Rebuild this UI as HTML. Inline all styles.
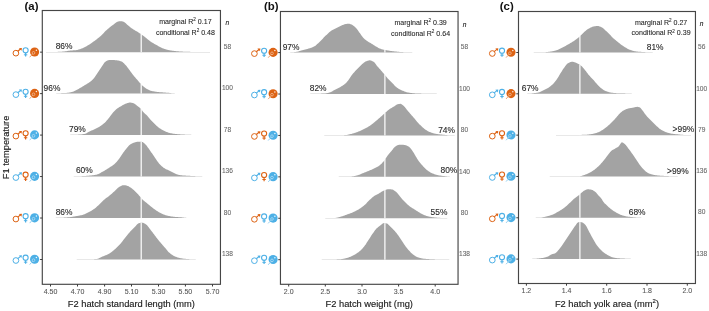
<!DOCTYPE html>
<html><head><meta charset="utf-8"><style>
html,body{margin:0;padding:0;background:#fff;width:709px;height:311px;overflow:hidden;font-family:"Liberation Sans",sans-serif;}
svg{display:block;will-change:transform;}
</style></head><body>
<svg width="709" height="311" viewBox="0 0 709 311">
<rect x="0" y="0" width="709" height="311" fill="#fff"/>
<path d="M46.0,52.15L46.0,52.10L46.5,52.09L47.0,52.09L47.5,52.08L48.0,52.08L48.5,52.07L49.0,52.07L49.5,52.06L50.0,52.06L50.5,52.05L51.0,52.05L51.5,52.04L52.0,52.03L52.5,52.02L53.0,52.01L53.5,52.00L54.0,51.99L54.5,51.98L55.0,51.97L55.5,51.95L56.0,51.94L56.5,51.92L57.0,51.91L57.5,51.89L58.0,51.87L58.5,51.85L59.0,51.83L59.5,51.80L60.0,51.78L60.5,51.75L61.0,51.72L61.5,51.68L62.0,51.65L62.5,51.61L63.0,51.57L63.5,51.53L64.0,51.49L64.5,51.43L65.0,51.37L65.5,51.29L66.0,51.21L66.5,51.13L67.0,51.04L67.5,50.95L68.0,50.86L68.5,50.78L69.0,50.70L69.5,50.63L70.0,50.57L70.5,50.53L71.0,50.49L71.5,50.45L72.0,50.42L72.5,50.40L73.0,50.37L73.5,50.34L74.0,50.31L74.5,50.27L75.0,50.23L75.5,50.19L76.0,50.14L76.5,50.07L77.0,49.98L77.5,49.88L78.0,49.76L78.5,49.62L79.0,49.47L79.5,49.31L80.0,49.14L80.5,48.96L81.0,48.78L81.5,48.59L82.0,48.40L82.5,48.21L83.0,48.00L83.5,47.78L84.0,47.54L84.5,47.30L85.0,47.04L85.5,46.77L86.0,46.49L86.5,46.21L87.0,45.92L87.5,45.62L88.0,45.33L88.5,45.03L89.0,44.72L89.5,44.41L90.0,44.08L90.5,43.75L91.0,43.40L91.5,43.05L92.0,42.70L92.5,42.34L93.0,41.98L93.5,41.61L94.0,41.24L94.5,40.88L95.0,40.51L95.5,40.14L96.0,39.76L96.5,39.38L97.0,39.00L97.5,38.61L98.0,38.22L98.5,37.82L99.0,37.41L99.5,37.00L100.0,36.57L100.5,36.14L101.0,35.69L101.5,35.21L102.0,34.72L102.5,34.21L103.0,33.69L103.5,33.16L104.0,32.64L104.5,32.11L105.0,31.59L105.5,31.09L106.0,30.60L106.5,30.13L107.0,29.68L107.5,29.24L108.0,28.81L108.5,28.38L109.0,27.96L109.5,27.55L110.0,27.15L110.5,26.75L111.0,26.36L111.5,25.98L112.0,25.62L112.5,25.26L113.0,24.91L113.5,24.54L114.0,24.15L114.5,23.76L115.0,23.36L115.5,22.98L116.0,22.62L116.5,22.28L117.0,21.98L117.5,21.73L118.0,21.53L118.5,21.40L119.0,21.34L119.5,21.31L120.0,21.29L120.5,21.27L121.0,21.25L121.5,21.25L122.0,21.30L122.5,21.42L123.0,21.61L123.5,21.82L124.0,22.05L124.5,22.33L125.0,22.69L125.5,23.12L126.0,23.58L126.5,24.05L127.0,24.51L127.5,24.93L128.0,25.34L128.5,25.75L129.0,26.16L129.5,26.58L130.0,26.98L130.5,27.38L131.0,27.77L131.5,28.15L132.0,28.51L132.5,28.85L133.0,29.18L133.5,29.50L134.0,29.80L134.5,30.10L135.0,30.39L135.5,30.67L136.0,30.96L136.5,31.25L137.0,31.54L137.5,31.84L138.0,32.16L138.5,32.48L139.0,32.81L139.5,33.15L140.0,33.49L140.5,33.83L141.0,34.18L141.5,34.54L142.0,34.89L142.5,35.25L143.0,35.62L143.5,35.98L144.0,36.35L144.5,36.72L145.0,37.11L145.5,37.50L146.0,37.91L146.5,38.32L147.0,38.74L147.5,39.15L148.0,39.57L148.5,39.97L149.0,40.37L149.5,40.76L150.0,41.13L150.5,41.48L151.0,41.82L151.5,42.14L152.0,42.46L152.5,42.76L153.0,43.06L153.5,43.36L154.0,43.64L154.5,43.93L155.0,44.21L155.5,44.49L156.0,44.76L156.5,45.04L157.0,45.32L157.5,45.60L158.0,45.88L158.5,46.17L159.0,46.45L159.5,46.73L160.0,47.01L160.5,47.27L161.0,47.53L161.5,47.77L162.0,48.00L162.5,48.21L163.0,48.40L163.5,48.58L164.0,48.76L164.5,48.93L165.0,49.10L165.5,49.26L166.0,49.41L166.5,49.55L167.0,49.69L167.5,49.81L168.0,49.93L168.5,50.04L169.0,50.14L169.5,50.24L170.0,50.33L170.5,50.42L171.0,50.50L171.5,50.57L172.0,50.65L172.5,50.72L173.0,50.78L173.5,50.85L174.0,50.91L174.5,50.97L175.0,51.02L175.5,51.08L176.0,51.13L176.5,51.18L177.0,51.23L177.5,51.28L178.0,51.33L178.5,51.37L179.0,51.41L179.5,51.44L180.0,51.48L180.5,51.50L181.0,51.53L181.5,51.56L182.0,51.58L182.5,51.61L183.0,51.63L183.5,51.65L184.0,51.68L184.5,51.70L185.0,51.71L185.5,51.73L186.0,51.75L186.5,51.77L187.0,51.78L187.5,51.80L188.0,51.81L188.5,51.83L189.0,51.84L189.5,51.85L190.0,51.87L190.5,51.88L191.0,51.89L191.5,51.90L192.0,51.91L192.5,51.92L193.0,51.93L193.5,51.94L194.0,51.95L194.5,51.96L195.0,51.97L195.5,51.97L196.0,51.98L196.5,51.99L197.0,52.00L197.5,52.00L198.0,52.01L198.5,52.01L199.0,52.02L199.5,52.03L200.0,52.03L200.5,52.04L201.0,52.04L201.5,52.05L202.0,52.05L202.5,52.05L203.0,52.06L203.5,52.06L204.0,52.07L204.5,52.07L205.0,52.07L205.5,52.07L206.0,52.08L206.5,52.08L207.0,52.08L207.5,52.09L208.0,52.09L208.5,52.09L209.0,52.09L209.5,52.10L210.0,52.10L210.0,52.15Z" fill="#A3A3A3"/>
<rect x="140.60" y="33.90" width="1.2" height="18.25" fill="#fff"/>
<path d="M46.0,93.62L46.0,93.57L46.5,93.56L47.0,93.56L47.5,93.56L48.0,93.55L48.5,93.55L49.0,93.54L49.5,93.53L50.0,93.53L50.5,93.52L51.0,93.51L51.5,93.50L52.0,93.49L52.5,93.48L53.0,93.47L53.5,93.46L54.0,93.44L54.5,93.43L55.0,93.41L55.5,93.40L56.0,93.38L56.5,93.36L57.0,93.34L57.5,93.31L58.0,93.28L58.5,93.25L59.0,93.22L59.5,93.19L60.0,93.17L60.5,93.15L61.0,93.13L61.5,93.11L62.0,93.10L62.5,93.09L63.0,93.07L63.5,93.06L64.0,93.04L64.5,93.02L65.0,93.00L65.5,92.98L66.0,92.95L66.5,92.92L67.0,92.87L67.5,92.82L68.0,92.76L68.5,92.69L69.0,92.61L69.5,92.52L70.0,92.42L70.5,92.32L71.0,92.21L71.5,92.10L72.0,91.98L72.5,91.85L73.0,91.69L73.5,91.51L74.0,91.30L74.5,91.07L75.0,90.82L75.5,90.56L76.0,90.29L76.5,90.01L77.0,89.73L77.5,89.45L78.0,89.18L78.5,88.91L79.0,88.64L79.5,88.37L80.0,88.08L80.5,87.79L81.0,87.50L81.5,87.20L82.0,86.90L82.5,86.59L83.0,86.28L83.5,85.98L84.0,85.67L84.5,85.36L85.0,85.06L85.5,84.76L86.0,84.46L86.5,84.16L87.0,83.87L87.5,83.56L88.0,83.25L88.5,82.93L89.0,82.60L89.5,82.25L90.0,81.88L90.5,81.50L91.0,81.09L91.5,80.65L92.0,80.19L92.5,79.70L93.0,79.18L93.5,78.63L94.0,78.06L94.5,77.45L95.0,76.77L95.5,76.05L96.0,75.28L96.5,74.50L97.0,73.71L97.5,72.93L98.0,72.17L98.5,71.42L99.0,70.67L99.5,69.92L100.0,69.16L100.5,68.42L101.0,67.68L101.5,66.96L102.0,66.23L102.5,65.46L103.0,64.67L103.5,63.90L104.0,63.19L104.5,62.57L105.0,62.08L105.5,61.71L106.0,61.36L106.5,61.03L107.0,60.74L107.5,60.49L108.0,60.30L108.5,60.17L109.0,60.11L109.5,60.09L110.0,60.07L110.5,60.05L111.0,60.04L111.5,60.03L112.0,60.02L112.5,60.02L113.0,60.02L113.5,60.04L114.0,60.06L114.5,60.09L115.0,60.13L115.5,60.17L116.0,60.21L116.5,60.26L117.0,60.32L117.5,60.40L118.0,60.49L118.5,60.59L119.0,60.70L119.5,60.82L120.0,60.96L120.5,61.13L121.0,61.33L121.5,61.56L122.0,61.81L122.5,62.10L123.0,62.47L123.5,62.89L124.0,63.37L124.5,63.89L125.0,64.43L125.5,64.98L126.0,65.53L126.5,66.11L127.0,66.73L127.5,67.38L128.0,68.05L128.5,68.73L129.0,69.41L129.5,70.09L130.0,70.76L130.5,71.45L131.0,72.14L131.5,72.84L132.0,73.53L132.5,74.21L133.0,74.87L133.5,75.49L134.0,76.09L134.5,76.68L135.0,77.26L135.5,77.82L136.0,78.39L136.5,78.96L137.0,79.54L137.5,80.12L138.0,80.72L138.5,81.32L139.0,81.91L139.5,82.49L140.0,83.06L140.5,83.61L141.0,84.15L141.5,84.68L142.0,85.19L142.5,85.67L143.0,86.12L143.5,86.54L144.0,86.94L144.5,87.33L145.0,87.70L145.5,88.06L146.0,88.39L146.5,88.70L147.0,89.00L147.5,89.29L148.0,89.57L148.5,89.83L149.0,90.08L149.5,90.30L150.0,90.49L150.5,90.64L151.0,90.78L151.5,90.91L152.0,91.03L152.5,91.15L153.0,91.25L153.5,91.35L154.0,91.44L154.5,91.53L155.0,91.61L155.5,91.69L156.0,91.75L156.5,91.82L157.0,91.88L157.5,91.94L158.0,91.99L158.5,92.04L159.0,92.09L159.5,92.13L160.0,92.17L160.5,92.21L161.0,92.25L161.5,92.29L162.0,92.33L162.5,92.37L163.0,92.41L163.5,92.45L164.0,92.49L164.5,92.52L165.0,92.56L165.5,92.59L166.0,92.63L166.5,92.66L167.0,92.70L167.5,92.73L168.0,92.77L168.5,92.81L169.0,92.86L169.5,92.92L170.0,92.98L170.5,93.04L171.0,93.10L171.5,93.15L172.0,93.20L172.5,93.24L173.0,93.28L173.5,93.31L174.0,93.34L174.5,93.36L175.0,93.39L175.5,93.41L176.0,93.43L176.5,93.44L177.0,93.46L177.5,93.48L178.0,93.49L178.5,93.50L179.0,93.51L179.5,93.52L180.0,93.53L180.5,93.54L181.0,93.54L181.5,93.55L182.0,93.56L182.5,93.56L183.0,93.57L183.0,93.62Z" fill="#A3A3A3"/>
<rect x="140.60" y="83.72" width="1.2" height="9.90" fill="#fff"/>
<path d="M56.0,135.09L56.0,135.04L56.5,135.04L57.0,135.03L57.5,135.03L58.0,135.03L58.5,135.02L59.0,135.02L59.5,135.02L60.0,135.01L60.5,135.01L61.0,135.01L61.5,135.00L62.0,135.00L62.5,134.99L63.0,134.99L63.5,134.98L64.0,134.98L64.5,134.97L65.0,134.97L65.5,134.96L66.0,134.95L66.5,134.95L67.0,134.94L67.5,134.93L68.0,134.92L68.5,134.91L69.0,134.90L69.5,134.90L70.0,134.88L70.5,134.87L71.0,134.86L71.5,134.85L72.0,134.84L72.5,134.83L73.0,134.81L73.5,134.80L74.0,134.78L74.5,134.77L75.0,134.75L75.5,134.74L76.0,134.72L76.5,134.70L77.0,134.68L77.5,134.66L78.0,134.64L78.5,134.62L79.0,134.59L79.5,134.56L80.0,134.53L80.5,134.49L81.0,134.45L81.5,134.39L82.0,134.33L82.5,134.27L83.0,134.19L83.5,134.11L84.0,134.02L84.5,133.92L85.0,133.80L85.5,133.64L86.0,133.43L86.5,133.19L87.0,132.92L87.5,132.62L88.0,132.32L88.5,132.03L89.0,131.74L89.5,131.48L90.0,131.24L90.5,131.01L91.0,130.79L91.5,130.57L92.0,130.35L92.5,130.14L93.0,129.92L93.5,129.70L94.0,129.47L94.5,129.24L95.0,129.00L95.5,128.76L96.0,128.51L96.5,128.27L97.0,128.02L97.5,127.76L98.0,127.49L98.5,127.22L99.0,126.93L99.5,126.63L100.0,126.32L100.5,125.99L101.0,125.66L101.5,125.31L102.0,124.95L102.5,124.58L103.0,124.18L103.5,123.78L104.0,123.35L104.5,122.91L105.0,122.43L105.5,121.93L106.0,121.39L106.5,120.83L107.0,120.25L107.5,119.66L108.0,119.06L108.5,118.45L109.0,117.83L109.5,117.22L110.0,116.56L110.5,115.87L111.0,115.17L111.5,114.48L112.0,113.80L112.5,113.16L113.0,112.58L113.5,112.01L114.0,111.46L114.5,110.93L115.0,110.42L115.5,109.94L116.0,109.49L116.5,109.07L117.0,108.68L117.5,108.32L118.0,107.98L118.5,107.65L119.0,107.33L119.5,107.03L120.0,106.74L120.5,106.45L121.0,106.17L121.5,105.89L122.0,105.61L122.5,105.32L123.0,105.04L123.5,104.76L124.0,104.50L124.5,104.24L125.0,104.00L125.5,103.78L126.0,103.59L126.5,103.42L127.0,103.26L127.5,103.09L128.0,102.93L128.5,102.80L129.0,102.69L129.5,102.62L130.0,102.59L130.5,102.61L131.0,102.66L131.5,102.73L132.0,102.83L132.5,102.95L133.0,103.09L133.5,103.23L134.0,103.40L134.5,103.66L135.0,103.99L135.5,104.38L136.0,104.80L136.5,105.23L137.0,105.65L137.5,106.04L138.0,106.42L138.5,106.79L139.0,107.17L139.5,107.58L140.0,108.01L140.5,108.49L141.0,109.04L141.5,109.67L142.0,110.33L142.5,110.99L143.0,111.63L143.5,112.20L144.0,112.72L144.5,113.21L145.0,113.67L145.5,114.14L146.0,114.60L146.5,115.08L147.0,115.58L147.5,116.12L148.0,116.69L148.5,117.28L149.0,117.89L149.5,118.49L150.0,119.08L150.5,119.66L151.0,120.21L151.5,120.75L152.0,121.28L152.5,121.80L153.0,122.31L153.5,122.81L154.0,123.31L154.5,123.79L155.0,124.26L155.5,124.74L156.0,125.21L156.5,125.68L157.0,126.13L157.5,126.57L158.0,127.00L158.5,127.40L159.0,127.78L159.5,128.13L160.0,128.46L160.5,128.78L161.0,129.09L161.5,129.39L162.0,129.68L162.5,129.95L163.0,130.21L163.5,130.47L164.0,130.72L164.5,130.96L165.0,131.20L165.5,131.44L166.0,131.68L166.5,131.91L167.0,132.12L167.5,132.32L168.0,132.51L168.5,132.67L169.0,132.81L169.5,132.94L170.0,133.05L170.5,133.16L171.0,133.27L171.5,133.36L172.0,133.46L172.5,133.55L173.0,133.63L173.5,133.71L174.0,133.78L174.5,133.85L175.0,133.91L175.5,133.97L176.0,134.03L176.5,134.08L177.0,134.12L177.5,134.17L178.0,134.21L178.5,134.25L179.0,134.29L179.5,134.32L180.0,134.36L180.5,134.39L181.0,134.42L181.5,134.45L182.0,134.48L182.5,134.51L183.0,134.54L183.5,134.56L184.0,134.59L184.5,134.61L185.0,134.64L185.5,134.66L186.0,134.69L186.5,134.71L187.0,134.74L187.5,134.76L188.0,134.78L188.5,134.80L189.0,134.81L189.5,134.83L190.0,134.85L190.5,134.86L191.0,134.87L191.5,134.89L192.0,134.90L192.5,134.91L193.0,134.92L193.5,134.93L194.0,134.94L194.5,134.95L195.0,134.96L195.5,134.96L196.0,134.97L196.5,134.98L197.0,134.99L197.5,134.99L198.0,135.00L198.5,135.00L199.0,135.01L199.5,135.01L200.0,135.02L200.5,135.02L201.0,135.02L201.5,135.03L202.0,135.03L202.5,135.04L203.0,135.04L203.0,135.09Z" fill="#A3A3A3"/>
<rect x="140.60" y="108.59" width="1.2" height="26.50" fill="#fff"/>
<path d="M61.0,176.56L61.0,176.51L61.5,176.51L62.0,176.50L62.5,176.50L63.0,176.50L63.5,176.49L64.0,176.49L64.5,176.49L65.0,176.48L65.5,176.48L66.0,176.47L66.5,176.47L67.0,176.47L67.5,176.46L68.0,176.46L68.5,176.45L69.0,176.45L69.5,176.44L70.0,176.43L70.5,176.43L71.0,176.42L71.5,176.41L72.0,176.40L72.5,176.39L73.0,176.39L73.5,176.38L74.0,176.37L74.5,176.36L75.0,176.35L75.5,176.34L76.0,176.32L76.5,176.31L77.0,176.30L77.5,176.28L78.0,176.27L78.5,176.25L79.0,176.24L79.5,176.22L80.0,176.20L80.5,176.18L81.0,176.16L81.5,176.14L82.0,176.12L82.5,176.09L83.0,176.07L83.5,176.04L84.0,176.02L84.5,175.99L85.0,175.96L85.5,175.92L86.0,175.89L86.5,175.85L87.0,175.81L87.5,175.77L88.0,175.73L88.5,175.68L89.0,175.64L89.5,175.59L90.0,175.55L90.5,175.50L91.0,175.45L91.5,175.40L92.0,175.35L92.5,175.30L93.0,175.24L93.5,175.18L94.0,175.11L94.5,175.04L95.0,174.96L95.5,174.87L96.0,174.78L96.5,174.67L97.0,174.52L97.5,174.35L98.0,174.15L98.5,173.92L99.0,173.68L99.5,173.42L100.0,173.16L100.5,172.88L101.0,172.61L101.5,172.33L102.0,172.07L102.5,171.80L103.0,171.53L103.5,171.25L104.0,170.96L104.5,170.66L105.0,170.36L105.5,170.05L106.0,169.73L106.5,169.42L107.0,169.10L107.5,168.78L108.0,168.45L108.5,168.13L109.0,167.81L109.5,167.50L110.0,167.19L110.5,166.87L111.0,166.55L111.5,166.23L112.0,165.89L112.5,165.54L113.0,165.18L113.5,164.80L114.0,164.40L114.5,163.97L115.0,163.52L115.5,163.03L116.0,162.51L116.5,161.97L117.0,161.40L117.5,160.81L118.0,160.20L118.5,159.58L119.0,158.94L119.5,158.30L120.0,157.60L120.5,156.86L121.0,156.10L121.5,155.32L122.0,154.54L122.5,153.78L123.0,153.06L123.5,152.36L124.0,151.66L124.5,150.97L125.0,150.30L125.5,149.64L126.0,149.00L126.5,148.39L127.0,147.81L127.5,147.22L128.0,146.65L128.5,146.09L129.0,145.56L129.5,145.09L130.0,144.67L130.5,144.33L131.0,144.02L131.5,143.73L132.0,143.46L132.5,143.22L133.0,143.01L133.5,142.82L134.0,142.66L134.5,142.51L135.0,142.37L135.5,142.22L136.0,142.09L136.5,141.97L137.0,141.86L137.5,141.77L138.0,141.71L138.5,141.67L139.0,141.66L139.5,141.67L140.0,141.69L140.5,141.73L141.0,141.77L141.5,141.82L142.0,141.90L142.5,142.07L143.0,142.34L143.5,142.69L144.0,143.09L144.5,143.52L145.0,143.95L145.5,144.43L146.0,144.99L146.5,145.61L147.0,146.26L147.5,146.95L148.0,147.64L148.5,148.33L149.0,149.00L149.5,149.70L150.0,150.42L150.5,151.15L151.0,151.89L151.5,152.63L152.0,153.37L152.5,154.10L153.0,154.85L153.5,155.61L154.0,156.36L154.5,157.12L155.0,157.86L155.5,158.59L156.0,159.30L156.5,160.01L157.0,160.72L157.5,161.42L158.0,162.11L158.5,162.76L159.0,163.38L159.5,163.95L160.0,164.48L160.5,164.99L161.0,165.49L161.5,165.96L162.0,166.42L162.5,166.85L163.0,167.26L163.5,167.64L164.0,168.00L164.5,168.32L165.0,168.62L165.5,168.89L166.0,169.14L166.5,169.38L167.0,169.61L167.5,169.84L168.0,170.06L168.5,170.28L169.0,170.52L169.5,170.76L170.0,171.01L170.5,171.26L171.0,171.52L171.5,171.77L172.0,172.03L172.5,172.28L173.0,172.52L173.5,172.76L174.0,172.98L174.5,173.21L175.0,173.44L175.5,173.67L176.0,173.91L176.5,174.13L177.0,174.35L177.5,174.55L178.0,174.72L178.5,174.86L179.0,174.97L179.5,175.04L180.0,175.11L180.5,175.18L181.0,175.23L181.5,175.29L182.0,175.33L182.5,175.38L183.0,175.42L183.5,175.46L184.0,175.49L184.5,175.53L185.0,175.56L185.5,175.59L186.0,175.63L186.5,175.66L187.0,175.69L187.5,175.72L188.0,175.76L188.5,175.79L189.0,175.81L189.5,175.84L190.0,175.87L190.5,175.89L191.0,175.92L191.5,175.94L192.0,175.97L192.5,175.99L193.0,176.02L193.5,176.04L194.0,176.06L194.5,176.09L195.0,176.11L195.5,176.13L196.0,176.16L196.5,176.18L197.0,176.20L197.5,176.22L198.0,176.25L198.5,176.27L199.0,176.28L199.5,176.30L200.0,176.32L200.5,176.33L201.0,176.34L201.5,176.36L202.0,176.37L202.5,176.38L203.0,176.39L203.5,176.40L204.0,176.41L204.5,176.42L205.0,176.43L205.5,176.43L206.0,176.44L206.5,176.45L207.0,176.46L207.5,176.46L208.0,176.47L208.5,176.47L209.0,176.48L209.5,176.48L210.0,176.49L210.5,176.49L211.0,176.49L211.5,176.50L212.0,176.50L212.5,176.51L213.0,176.51L213.0,176.56Z" fill="#A3A3A3"/>
<rect x="140.60" y="141.73" width="1.2" height="34.83" fill="#fff"/>
<path d="M47.0,218.03L47.0,217.98L47.5,217.98L48.0,217.97L48.5,217.97L49.0,217.96L49.5,217.96L50.0,217.95L50.5,217.95L51.0,217.95L51.5,217.94L52.0,217.94L52.5,217.93L53.0,217.92L53.5,217.92L54.0,217.91L54.5,217.90L55.0,217.89L55.5,217.88L56.0,217.87L56.5,217.86L57.0,217.85L57.5,217.84L58.0,217.83L58.5,217.82L59.0,217.80L59.5,217.79L60.0,217.77L60.5,217.76L61.0,217.74L61.5,217.72L62.0,217.70L62.5,217.68L63.0,217.66L63.5,217.63L64.0,217.61L64.5,217.58L65.0,217.55L65.5,217.52L66.0,217.49L66.5,217.45L67.0,217.41L67.5,217.37L68.0,217.33L68.5,217.28L69.0,217.23L69.5,217.18L70.0,217.13L70.5,217.07L71.0,217.01L71.5,216.93L72.0,216.85L72.5,216.77L73.0,216.68L73.5,216.59L74.0,216.50L74.5,216.41L75.0,216.32L75.5,216.22L76.0,216.14L76.5,216.05L77.0,215.97L77.5,215.89L78.0,215.81L78.5,215.72L79.0,215.64L79.5,215.56L80.0,215.47L80.5,215.37L81.0,215.27L81.5,215.16L82.0,215.04L82.5,214.91L83.0,214.76L83.5,214.59L84.0,214.41L84.5,214.21L85.0,214.00L85.5,213.78L86.0,213.55L86.5,213.32L87.0,213.07L87.5,212.83L88.0,212.58L88.5,212.33L89.0,212.07L89.5,211.81L90.0,211.54L90.5,211.25L91.0,210.96L91.5,210.66L92.0,210.35L92.5,210.03L93.0,209.70L93.5,209.36L94.0,209.02L94.5,208.66L95.0,208.28L95.5,207.88L96.0,207.46L96.5,207.02L97.0,206.57L97.5,206.11L98.0,205.64L98.5,205.18L99.0,204.71L99.5,204.24L100.0,203.76L100.5,203.26L101.0,202.75L101.5,202.24L102.0,201.73L102.5,201.22L103.0,200.73L103.5,200.26L104.0,199.80L104.5,199.38L105.0,198.98L105.5,198.59L106.0,198.22L106.5,197.86L107.0,197.50L107.5,197.14L108.0,196.78L108.5,196.40L109.0,196.01L109.5,195.60L110.0,195.18L110.5,194.75L111.0,194.32L111.5,193.88L112.0,193.43L112.5,192.98L113.0,192.53L113.5,192.08L114.0,191.63L114.5,191.16L115.0,190.67L115.5,190.15L116.0,189.64L116.5,189.13L117.0,188.63L117.5,188.17L118.0,187.75L118.5,187.38L119.0,187.07L119.5,186.79L120.0,186.50L120.5,186.22L121.0,185.96L121.5,185.71L122.0,185.50L122.5,185.33L123.0,185.21L123.5,185.14L124.0,185.13L124.5,185.17L125.0,185.24L125.5,185.34L126.0,185.46L126.5,185.59L127.0,185.73L127.5,185.89L128.0,186.10L128.5,186.34L129.0,186.61L129.5,186.90L130.0,187.19L130.5,187.50L131.0,187.85L131.5,188.22L132.0,188.60L132.5,189.01L133.0,189.43L133.5,189.87L134.0,190.31L134.5,190.76L135.0,191.21L135.5,191.69L136.0,192.19L136.5,192.70L137.0,193.23L137.5,193.76L138.0,194.30L138.5,194.84L139.0,195.39L139.5,195.97L140.0,196.55L140.5,197.15L141.0,197.74L141.5,198.32L142.0,198.89L142.5,199.43L143.0,199.94L143.5,200.41L144.0,200.85L144.5,201.27L145.0,201.66L145.5,202.05L146.0,202.44L146.5,202.83L147.0,203.23L147.5,203.65L148.0,204.07L148.5,204.49L149.0,204.92L149.5,205.34L150.0,205.76L150.5,206.17L151.0,206.57L151.5,206.97L152.0,207.36L152.5,207.75L153.0,208.14L153.5,208.52L154.0,208.89L154.5,209.26L155.0,209.62L155.5,209.96L156.0,210.30L156.5,210.64L157.0,210.97L157.5,211.30L158.0,211.62L158.5,211.93L159.0,212.22L159.5,212.51L160.0,212.78L160.5,213.03L161.0,213.27L161.5,213.51L162.0,213.74L162.5,213.96L163.0,214.18L163.5,214.39L164.0,214.59L164.5,214.78L165.0,214.96L165.5,215.13L166.0,215.28L166.5,215.42L167.0,215.54L167.5,215.66L168.0,215.78L168.5,215.89L169.0,216.00L169.5,216.10L170.0,216.20L170.5,216.29L171.0,216.38L171.5,216.47L172.0,216.54L172.5,216.62L173.0,216.68L173.5,216.75L174.0,216.80L174.5,216.86L175.0,216.90L175.5,216.95L176.0,216.99L176.5,217.02L177.0,217.06L177.5,217.09L178.0,217.12L178.5,217.16L179.0,217.19L179.5,217.22L180.0,217.25L180.5,217.29L181.0,217.33L181.5,217.37L182.0,217.42L182.5,217.47L183.0,217.53L183.5,217.61L184.0,217.68L184.5,217.73L185.0,217.78L185.5,217.82L186.0,217.85L186.5,217.88L187.0,217.90L187.5,217.92L188.0,217.93L188.5,217.95L189.0,217.96L189.5,217.97L190.0,217.98L190.0,218.03Z" fill="#A3A3A3"/>
<rect x="140.60" y="197.27" width="1.2" height="20.76" fill="#fff"/>
<path d="M63.0,259.50L63.0,259.45L63.5,259.45L64.0,259.45L64.5,259.44L65.0,259.44L65.5,259.44L66.0,259.44L66.5,259.44L67.0,259.43L67.5,259.43L68.0,259.43L68.5,259.43L69.0,259.43L69.5,259.42L70.0,259.42L70.5,259.42L71.0,259.42L71.5,259.41L72.0,259.41L72.5,259.41L73.0,259.40L73.5,259.40L74.0,259.40L74.5,259.39L75.0,259.39L75.5,259.39L76.0,259.38L76.5,259.38L77.0,259.37L77.5,259.37L78.0,259.37L78.5,259.36L79.0,259.36L79.5,259.35L80.0,259.35L80.5,259.34L81.0,259.34L81.5,259.33L82.0,259.32L82.5,259.32L83.0,259.31L83.5,259.31L84.0,259.30L84.5,259.29L85.0,259.29L85.5,259.28L86.0,259.27L86.5,259.26L87.0,259.26L87.5,259.25L88.0,259.24L88.5,259.23L89.0,259.22L89.5,259.22L90.0,259.21L90.5,259.20L91.0,259.19L91.5,259.19L92.0,259.18L92.5,259.17L93.0,259.16L93.5,259.15L94.0,259.13L94.5,259.12L95.0,259.10L95.5,259.08L96.0,259.06L96.5,259.04L97.0,258.97L97.5,258.85L98.0,258.70L98.5,258.51L99.0,258.29L99.5,258.05L100.0,257.80L100.5,257.55L101.0,257.29L101.5,257.04L102.0,256.80L102.5,256.57L103.0,256.37L103.5,256.17L104.0,255.96L104.5,255.76L105.0,255.56L105.5,255.36L106.0,255.15L106.5,254.93L107.0,254.71L107.5,254.47L108.0,254.22L108.5,253.96L109.0,253.69L109.5,253.39L110.0,253.08L110.5,252.74L111.0,252.39L111.5,252.03L112.0,251.65L112.5,251.26L113.0,250.86L113.5,250.45L114.0,250.04L114.5,249.61L115.0,249.19L115.5,248.75L116.0,248.30L116.5,247.83L117.0,247.35L117.5,246.86L118.0,246.35L118.5,245.83L119.0,245.30L119.5,244.76L120.0,244.21L120.5,243.64L121.0,243.05L121.5,242.43L122.0,241.80L122.5,241.16L123.0,240.50L123.5,239.85L124.0,239.20L124.5,238.55L125.0,237.92L125.5,237.30L126.0,236.68L126.5,236.05L127.0,235.43L127.5,234.80L128.0,234.19L128.5,233.58L129.0,232.98L129.5,232.39L130.0,231.82L130.5,231.27L131.0,230.73L131.5,230.19L132.0,229.67L132.5,229.15L133.0,228.65L133.5,228.15L134.0,227.65L134.5,227.17L135.0,226.69L135.5,226.20L136.0,225.67L136.5,225.12L137.0,224.57L137.5,224.08L138.0,223.66L138.5,223.35L139.0,223.18L139.5,223.06L140.0,222.96L140.5,222.87L141.0,222.80L141.5,222.75L142.0,222.71L142.5,222.70L143.0,222.75L143.5,222.90L144.0,223.13L144.5,223.41L145.0,223.75L145.5,224.11L146.0,224.48L146.5,224.86L147.0,225.32L147.5,225.86L148.0,226.47L148.5,227.12L149.0,227.79L149.5,228.46L150.0,229.10L150.5,229.73L151.0,230.38L151.5,231.04L152.0,231.70L152.5,232.37L153.0,233.04L153.5,233.70L154.0,234.36L154.5,235.03L155.0,235.70L155.5,236.36L156.0,237.03L156.5,237.69L157.0,238.34L157.5,238.97L158.0,239.60L158.5,240.20L159.0,240.80L159.5,241.39L160.0,241.98L160.5,242.56L161.0,243.15L161.5,243.73L162.0,244.32L162.5,244.90L163.0,245.48L163.5,246.05L164.0,246.63L164.5,247.21L165.0,247.78L165.5,248.37L166.0,248.98L166.5,249.61L167.0,250.22L167.5,250.82L168.0,251.39L168.5,251.92L169.0,252.39L169.5,252.83L170.0,253.25L170.5,253.66L171.0,254.05L171.5,254.42L172.0,254.77L172.5,255.10L173.0,255.41L173.5,255.69L174.0,255.95L174.5,256.19L175.0,256.43L175.5,256.65L176.0,256.87L176.5,257.07L177.0,257.26L177.5,257.43L178.0,257.58L178.5,257.72L179.0,257.83L179.5,257.94L180.0,258.05L180.5,258.15L181.0,258.24L181.5,258.33L182.0,258.41L182.5,258.49L183.0,258.57L183.5,258.64L184.0,258.70L184.5,258.76L185.0,258.82L185.5,258.86L186.0,258.91L186.5,258.94L187.0,258.98L187.5,259.01L188.0,259.05L188.5,259.08L189.0,259.11L189.5,259.14L190.0,259.17L190.5,259.19L191.0,259.22L191.5,259.24L192.0,259.27L192.5,259.29L193.0,259.31L193.5,259.32L194.0,259.34L194.5,259.35L195.0,259.37L195.5,259.37L196.0,259.38L196.5,259.39L197.0,259.39L197.5,259.39L198.0,259.40L198.5,259.40L199.0,259.40L199.5,259.40L200.0,259.41L200.5,259.41L201.0,259.41L201.5,259.41L202.0,259.41L202.5,259.42L203.0,259.42L203.5,259.42L204.0,259.42L204.5,259.42L205.0,259.43L205.5,259.43L206.0,259.43L206.5,259.43L207.0,259.43L207.5,259.43L208.0,259.44L208.5,259.44L209.0,259.44L209.5,259.44L210.0,259.44L210.5,259.44L211.0,259.44L211.5,259.45L212.0,259.45L212.5,259.45L213.0,259.45L213.0,259.50Z" fill="#A3A3A3"/>
<rect x="140.60" y="222.72" width="1.2" height="36.78" fill="#fff"/>
<rect x="42.30" y="10.50" width="178.15" height="273.80" fill="none" stroke="#464646" stroke-width="1.15"/>
<line x1="40.10" y1="52.15" x2="42.30" y2="52.15" stroke="#3a3a3a" stroke-width="1"/>
<line x1="40.10" y1="93.62" x2="42.30" y2="93.62" stroke="#3a3a3a" stroke-width="1"/>
<line x1="40.10" y1="135.09" x2="42.30" y2="135.09" stroke="#3a3a3a" stroke-width="1"/>
<line x1="40.10" y1="176.56" x2="42.30" y2="176.56" stroke="#3a3a3a" stroke-width="1"/>
<line x1="40.10" y1="218.03" x2="42.30" y2="218.03" stroke="#3a3a3a" stroke-width="1"/>
<line x1="40.10" y1="259.50" x2="42.30" y2="259.50" stroke="#3a3a3a" stroke-width="1"/>
<line x1="50.50" y1="284.30" x2="50.50" y2="286.50" stroke="#3a3a3a" stroke-width="1"/>
<text x="50.50" y="293.80" font-family="Liberation Sans, sans-serif" font-size="7" fill="#555" stroke="#555" stroke-width="0.08" text-anchor="middle">4.50</text>
<line x1="77.50" y1="284.30" x2="77.50" y2="286.50" stroke="#3a3a3a" stroke-width="1"/>
<text x="77.50" y="293.80" font-family="Liberation Sans, sans-serif" font-size="7" fill="#555" stroke="#555" stroke-width="0.08" text-anchor="middle">4.70</text>
<line x1="104.60" y1="284.30" x2="104.60" y2="286.50" stroke="#3a3a3a" stroke-width="1"/>
<text x="104.60" y="293.80" font-family="Liberation Sans, sans-serif" font-size="7" fill="#555" stroke="#555" stroke-width="0.08" text-anchor="middle">4.90</text>
<line x1="131.50" y1="284.30" x2="131.50" y2="286.50" stroke="#3a3a3a" stroke-width="1"/>
<text x="131.50" y="293.80" font-family="Liberation Sans, sans-serif" font-size="7" fill="#555" stroke="#555" stroke-width="0.08" text-anchor="middle">5.10</text>
<line x1="158.50" y1="284.30" x2="158.50" y2="286.50" stroke="#3a3a3a" stroke-width="1"/>
<text x="158.50" y="293.80" font-family="Liberation Sans, sans-serif" font-size="7" fill="#555" stroke="#555" stroke-width="0.08" text-anchor="middle">5.30</text>
<line x1="185.40" y1="284.30" x2="185.40" y2="286.50" stroke="#3a3a3a" stroke-width="1"/>
<text x="185.40" y="293.80" font-family="Liberation Sans, sans-serif" font-size="7" fill="#555" stroke="#555" stroke-width="0.08" text-anchor="middle">5.50</text>
<line x1="212.50" y1="284.30" x2="212.50" y2="286.50" stroke="#3a3a3a" stroke-width="1"/>
<text x="212.50" y="293.80" font-family="Liberation Sans, sans-serif" font-size="7" fill="#555" stroke="#555" stroke-width="0.08" text-anchor="middle">5.70</text>
<text x="131.38" y="306.8" font-family="Liberation Sans, sans-serif" font-size="9.3" fill="#1a1a1a" stroke="#1a1a1a" stroke-width="0.14" text-anchor="middle">F2 hatch standard length (mm)</text>
<text x="31.50" y="9.90" font-family="Liberation Sans, sans-serif" font-size="11.4" font-weight="bold" fill="#111" text-anchor="middle">(a)</text>
<text x="185.40" y="23.70" font-family="Liberation Sans, sans-serif" font-size="7.05" fill="#262626" stroke="#262626" stroke-width="0.08" text-anchor="middle">marginal R<tspan font-size="4.6" dy="-2.6">2</tspan><tspan dy="2.6"> 0.17</tspan></text>
<text x="185.40" y="34.50" font-family="Liberation Sans, sans-serif" font-size="7.05" fill="#262626" stroke="#262626" stroke-width="0.08" text-anchor="middle">conditional R<tspan font-size="4.6" dy="-2.6">2</tspan><tspan dy="2.6"> 0.48</tspan></text>
<text x="227.40" y="25.30" font-family="Liberation Sans, sans-serif" font-size="6.6" font-style="italic" fill="#262626" stroke="#262626" stroke-width="0.12" text-anchor="middle">n</text>
<text x="227.40" y="48.85" font-family="Liberation Sans, sans-serif" font-size="6.6" fill="#6a6a6a" stroke="#6a6a6a" stroke-width="0.1" text-anchor="middle">58</text>
<text x="227.40" y="90.32" font-family="Liberation Sans, sans-serif" font-size="6.6" fill="#6a6a6a" stroke="#6a6a6a" stroke-width="0.1" text-anchor="middle">100</text>
<text x="227.40" y="131.79" font-family="Liberation Sans, sans-serif" font-size="6.6" fill="#6a6a6a" stroke="#6a6a6a" stroke-width="0.1" text-anchor="middle">78</text>
<text x="227.40" y="173.26" font-family="Liberation Sans, sans-serif" font-size="6.6" fill="#6a6a6a" stroke="#6a6a6a" stroke-width="0.1" text-anchor="middle">136</text>
<text x="227.40" y="214.73" font-family="Liberation Sans, sans-serif" font-size="6.6" fill="#6a6a6a" stroke="#6a6a6a" stroke-width="0.1" text-anchor="middle">80</text>
<text x="227.40" y="256.20" font-family="Liberation Sans, sans-serif" font-size="6.6" fill="#6a6a6a" stroke="#6a6a6a" stroke-width="0.1" text-anchor="middle">138</text>
<text x="55.70" y="49.10" font-family="Liberation Sans, sans-serif" font-size="8.4" fill="#2a2a2a" stroke="#2a2a2a" stroke-width="0.12">86%</text>
<text x="43.60" y="90.70" font-family="Liberation Sans, sans-serif" font-size="8.4" fill="#2a2a2a" stroke="#2a2a2a" stroke-width="0.12">96%</text>
<text x="69.00" y="131.80" font-family="Liberation Sans, sans-serif" font-size="8.4" fill="#2a2a2a" stroke="#2a2a2a" stroke-width="0.12">79%</text>
<text x="75.90" y="173.40" font-family="Liberation Sans, sans-serif" font-size="8.4" fill="#2a2a2a" stroke="#2a2a2a" stroke-width="0.12">60%</text>
<text x="55.70" y="214.80" font-family="Liberation Sans, sans-serif" font-size="8.4" fill="#2a2a2a" stroke="#2a2a2a" stroke-width="0.12">86%</text>
<circle cx="15.90" cy="53.15" r="2.85" fill="none" stroke="#DD6314" stroke-width="1.0"/>
<line x1="17.80" y1="51.25" x2="20.80" y2="48.75" stroke="#DD6314" stroke-width="1.15"/>
<path d="M21.90,47.95 L18.90,48.15 L21.50,50.75 Z" fill="#DD6314"/>
<circle cx="25.60" cy="50.30" r="2.55" fill="none" stroke="#4DB0E6" stroke-width="1.1"/>
<line x1="25.60" y1="52.90" x2="25.60" y2="56.50" stroke="#4DB0E6" stroke-width="1.2"/>
<line x1="23.90" y1="54.80" x2="27.30" y2="54.80" stroke="#4DB0E6" stroke-width="1.0"/>
<circle cx="34.60" cy="51.95" r="4.55" fill="#DD6314"/>
<path d="M31.50,55.15 L29.70,57.25" stroke="#DD6314" stroke-width="0.8" opacity="0.75"/>
<circle cx="36.40" cy="50.15" r="0.75" fill="#fff" opacity="0.9"/>
<circle cx="33.50" cy="52.85" r="1.35" fill="none" stroke="#fff" stroke-width="0.55" opacity="0.75"/>
<path d="M32.60,53.85 L31.20,55.45" stroke="#fff" stroke-width="0.55" opacity="0.7"/>
<circle cx="15.90" cy="94.62" r="2.85" fill="none" stroke="#4DB0E6" stroke-width="1.0"/>
<line x1="17.80" y1="92.72" x2="20.80" y2="90.22" stroke="#4DB0E6" stroke-width="1.15"/>
<path d="M21.90,89.42 L18.90,89.62 L21.50,92.22 Z" fill="#4DB0E6"/>
<circle cx="25.60" cy="91.77" r="2.55" fill="none" stroke="#4DB0E6" stroke-width="1.1"/>
<line x1="25.60" y1="94.37" x2="25.60" y2="97.97" stroke="#4DB0E6" stroke-width="1.2"/>
<line x1="23.90" y1="96.27" x2="27.30" y2="96.27" stroke="#4DB0E6" stroke-width="1.0"/>
<circle cx="34.60" cy="93.42" r="4.55" fill="#DD6314"/>
<path d="M31.50,96.62 L29.70,98.72" stroke="#DD6314" stroke-width="0.8" opacity="0.75"/>
<circle cx="36.40" cy="91.62" r="0.75" fill="#fff" opacity="0.9"/>
<circle cx="33.50" cy="94.32" r="1.35" fill="none" stroke="#fff" stroke-width="0.55" opacity="0.75"/>
<path d="M32.60,95.32 L31.20,96.92" stroke="#fff" stroke-width="0.55" opacity="0.7"/>
<circle cx="15.90" cy="136.09" r="2.85" fill="none" stroke="#DD6314" stroke-width="1.0"/>
<line x1="17.80" y1="134.19" x2="20.80" y2="131.69" stroke="#DD6314" stroke-width="1.15"/>
<path d="M21.90,130.89 L18.90,131.09 L21.50,133.69 Z" fill="#DD6314"/>
<circle cx="25.60" cy="133.24" r="2.55" fill="none" stroke="#DD6314" stroke-width="1.1"/>
<line x1="25.60" y1="135.84" x2="25.60" y2="139.44" stroke="#DD6314" stroke-width="1.2"/>
<line x1="23.90" y1="137.74" x2="27.30" y2="137.74" stroke="#DD6314" stroke-width="1.0"/>
<circle cx="34.60" cy="134.89" r="4.55" fill="#4DB0E6"/>
<path d="M31.50,138.09 L29.70,140.19" stroke="#4DB0E6" stroke-width="0.8" opacity="0.75"/>
<circle cx="36.40" cy="133.09" r="0.75" fill="#fff" opacity="0.9"/>
<circle cx="33.50" cy="135.79" r="1.35" fill="none" stroke="#fff" stroke-width="0.55" opacity="0.75"/>
<path d="M32.60,136.79 L31.20,138.39" stroke="#fff" stroke-width="0.55" opacity="0.7"/>
<circle cx="15.90" cy="177.56" r="2.85" fill="none" stroke="#4DB0E6" stroke-width="1.0"/>
<line x1="17.80" y1="175.66" x2="20.80" y2="173.16" stroke="#4DB0E6" stroke-width="1.15"/>
<path d="M21.90,172.36 L18.90,172.56 L21.50,175.16 Z" fill="#4DB0E6"/>
<circle cx="25.60" cy="174.71" r="2.55" fill="none" stroke="#DD6314" stroke-width="1.1"/>
<line x1="25.60" y1="177.31" x2="25.60" y2="180.91" stroke="#DD6314" stroke-width="1.2"/>
<line x1="23.90" y1="179.21" x2="27.30" y2="179.21" stroke="#DD6314" stroke-width="1.0"/>
<circle cx="34.60" cy="176.36" r="4.55" fill="#4DB0E6"/>
<path d="M31.50,179.56 L29.70,181.66" stroke="#4DB0E6" stroke-width="0.8" opacity="0.75"/>
<circle cx="36.40" cy="174.56" r="0.75" fill="#fff" opacity="0.9"/>
<circle cx="33.50" cy="177.26" r="1.35" fill="none" stroke="#fff" stroke-width="0.55" opacity="0.75"/>
<path d="M32.60,178.26 L31.20,179.86" stroke="#fff" stroke-width="0.55" opacity="0.7"/>
<circle cx="15.90" cy="219.03" r="2.85" fill="none" stroke="#DD6314" stroke-width="1.0"/>
<line x1="17.80" y1="217.13" x2="20.80" y2="214.63" stroke="#DD6314" stroke-width="1.15"/>
<path d="M21.90,213.83 L18.90,214.03 L21.50,216.63 Z" fill="#DD6314"/>
<circle cx="25.60" cy="216.18" r="2.55" fill="none" stroke="#4DB0E6" stroke-width="1.1"/>
<line x1="25.60" y1="218.78" x2="25.60" y2="222.38" stroke="#4DB0E6" stroke-width="1.2"/>
<line x1="23.90" y1="220.68" x2="27.30" y2="220.68" stroke="#4DB0E6" stroke-width="1.0"/>
<circle cx="34.60" cy="217.83" r="4.55" fill="#4DB0E6"/>
<path d="M31.50,221.03 L29.70,223.13" stroke="#4DB0E6" stroke-width="0.8" opacity="0.75"/>
<circle cx="36.40" cy="216.03" r="0.75" fill="#fff" opacity="0.9"/>
<circle cx="33.50" cy="218.73" r="1.35" fill="none" stroke="#fff" stroke-width="0.55" opacity="0.75"/>
<path d="M32.60,219.73 L31.20,221.33" stroke="#fff" stroke-width="0.55" opacity="0.7"/>
<circle cx="15.90" cy="260.50" r="2.85" fill="none" stroke="#4DB0E6" stroke-width="1.0"/>
<line x1="17.80" y1="258.60" x2="20.80" y2="256.10" stroke="#4DB0E6" stroke-width="1.15"/>
<path d="M21.90,255.30 L18.90,255.50 L21.50,258.10 Z" fill="#4DB0E6"/>
<circle cx="25.60" cy="257.65" r="2.55" fill="none" stroke="#4DB0E6" stroke-width="1.1"/>
<line x1="25.60" y1="260.25" x2="25.60" y2="263.85" stroke="#4DB0E6" stroke-width="1.2"/>
<line x1="23.90" y1="262.15" x2="27.30" y2="262.15" stroke="#4DB0E6" stroke-width="1.0"/>
<circle cx="34.60" cy="259.30" r="4.55" fill="#4DB0E6"/>
<path d="M31.50,262.50 L29.70,264.60" stroke="#4DB0E6" stroke-width="0.8" opacity="0.75"/>
<circle cx="36.40" cy="257.50" r="0.75" fill="#fff" opacity="0.9"/>
<circle cx="33.50" cy="260.20" r="1.35" fill="none" stroke="#fff" stroke-width="0.55" opacity="0.75"/>
<path d="M32.60,261.20 L31.20,262.80" stroke="#fff" stroke-width="0.55" opacity="0.7"/>
<path d="M282.5,52.60L282.5,52.55L283.0,52.54L283.5,52.54L284.0,52.53L284.5,52.53L285.0,52.52L285.5,52.51L286.0,52.50L286.5,52.49L287.0,52.48L287.5,52.47L288.0,52.46L288.5,52.44L289.0,52.43L289.5,52.41L290.0,52.39L290.5,52.37L291.0,52.35L291.5,52.32L292.0,52.29L292.5,52.26L293.0,52.23L293.5,52.19L294.0,52.15L294.5,52.11L295.0,52.06L295.5,52.00L296.0,51.94L296.5,51.86L297.0,51.77L297.5,51.65L298.0,51.52L298.5,51.38L299.0,51.23L299.5,51.07L300.0,50.91L300.5,50.75L301.0,50.59L301.5,50.44L302.0,50.29L302.5,50.16L303.0,50.03L303.5,49.90L304.0,49.78L304.5,49.66L305.0,49.54L305.5,49.42L306.0,49.29L306.5,49.17L307.0,49.03L307.5,48.90L308.0,48.75L308.5,48.60L309.0,48.45L309.5,48.30L310.0,48.15L310.5,47.99L311.0,47.82L311.5,47.65L312.0,47.47L312.5,47.28L313.0,47.07L313.5,46.85L314.0,46.61L314.5,46.35L315.0,46.03L315.5,45.66L316.0,45.25L316.5,44.80L317.0,44.33L317.5,43.86L318.0,43.39L318.5,42.93L319.0,42.45L319.5,41.95L320.0,41.44L320.5,40.93L321.0,40.41L321.5,39.90L322.0,39.40L322.5,38.89L323.0,38.38L323.5,37.87L324.0,37.36L324.5,36.85L325.0,36.34L325.5,35.85L326.0,35.36L326.5,34.89L327.0,34.42L327.5,33.95L328.0,33.48L328.5,33.02L329.0,32.56L329.5,32.12L330.0,31.69L330.5,31.29L331.0,30.91L331.5,30.56L332.0,30.25L332.5,29.96L333.0,29.69L333.5,29.44L334.0,29.19L334.5,28.95L335.0,28.72L335.5,28.49L336.0,28.25L336.5,28.00L337.0,27.74L337.5,27.48L338.0,27.22L338.5,26.96L339.0,26.69L339.5,26.44L340.0,26.19L340.5,25.95L341.0,25.73L341.5,25.52L342.0,25.30L342.5,25.09L343.0,24.89L343.5,24.69L344.0,24.51L344.5,24.34L345.0,24.21L345.5,24.10L346.0,24.01L346.5,23.92L347.0,23.84L347.5,23.78L348.0,23.73L348.5,23.70L349.0,23.71L349.5,23.80L350.0,23.94L350.5,24.13L351.0,24.35L351.5,24.59L352.0,24.85L352.5,25.10L353.0,25.40L353.5,25.75L354.0,26.14L354.5,26.57L355.0,27.02L355.5,27.50L356.0,28.00L356.5,28.54L357.0,29.15L357.5,29.81L358.0,30.51L358.5,31.22L359.0,31.93L359.5,32.63L360.0,33.31L360.5,34.02L361.0,34.76L361.5,35.49L362.0,36.20L362.5,36.86L363.0,37.47L363.5,38.00L364.0,38.49L364.5,38.95L365.0,39.38L365.5,39.78L366.0,40.17L366.5,40.54L367.0,40.90L367.5,41.25L368.0,41.57L368.5,41.89L369.0,42.19L369.5,42.48L370.0,42.77L370.5,43.06L371.0,43.36L371.5,43.65L372.0,43.96L372.5,44.28L373.0,44.61L373.5,44.94L374.0,45.27L374.5,45.61L375.0,45.93L375.5,46.25L376.0,46.55L376.5,46.84L377.0,47.11L377.5,47.37L378.0,47.63L378.5,47.89L379.0,48.14L379.5,48.38L380.0,48.60L380.5,48.81L381.0,49.00L381.5,49.17L382.0,49.31L382.5,49.44L383.0,49.57L383.5,49.69L384.0,49.80L384.5,49.91L385.0,50.01L385.5,50.11L386.0,50.20L386.5,50.29L387.0,50.37L387.5,50.45L388.0,50.53L388.5,50.61L389.0,50.69L389.5,50.76L390.0,50.84L390.5,50.91L391.0,50.98L391.5,51.04L392.0,51.11L392.5,51.17L393.0,51.23L393.5,51.29L394.0,51.35L394.5,51.41L395.0,51.46L395.5,51.51L396.0,51.56L396.5,51.61L397.0,51.65L397.5,51.70L398.0,51.75L398.5,51.79L399.0,51.83L399.5,51.88L400.0,51.92L400.5,51.96L401.0,51.99L401.5,52.03L402.0,52.06L402.5,52.09L403.0,52.12L403.5,52.14L404.0,52.16L404.5,52.18L405.0,52.20L405.5,52.22L406.0,52.23L406.5,52.25L407.0,52.26L407.5,52.27L408.0,52.28L408.5,52.30L409.0,52.31L409.5,52.32L410.0,52.33L410.5,52.34L411.0,52.35L411.5,52.36L412.0,52.37L412.5,52.38L413.0,52.39L413.5,52.40L414.0,52.40L414.5,52.41L415.0,52.42L415.5,52.43L416.0,52.43L416.5,52.44L417.0,52.45L417.5,52.45L418.0,52.46L418.5,52.46L419.0,52.47L419.5,52.47L420.0,52.48L420.5,52.48L421.0,52.49L421.5,52.49L422.0,52.50L422.5,52.50L423.0,52.50L423.5,52.51L424.0,52.51L424.5,52.52L425.0,52.52L425.5,52.52L426.0,52.52L426.5,52.53L427.0,52.53L427.5,52.53L428.0,52.53L428.5,52.54L429.0,52.54L429.5,52.54L430.0,52.54L430.5,52.55L431.0,52.55L431.0,52.60Z" fill="#A3A3A3"/>
<rect x="384.30" y="49.87" width="1.2" height="2.73" fill="#fff"/>
<path d="M299.0,94.02L299.0,93.97L299.5,93.97L300.0,93.96L300.5,93.96L301.0,93.96L301.5,93.96L302.0,93.95L302.5,93.95L303.0,93.95L303.5,93.94L304.0,93.94L304.5,93.94L305.0,93.93L305.5,93.93L306.0,93.92L306.5,93.92L307.0,93.91L307.5,93.91L308.0,93.90L308.5,93.90L309.0,93.89L309.5,93.89L310.0,93.88L310.5,93.87L311.0,93.87L311.5,93.86L312.0,93.85L312.5,93.84L313.0,93.83L313.5,93.83L314.0,93.82L314.5,93.81L315.0,93.80L315.5,93.78L316.0,93.77L316.5,93.76L317.0,93.75L317.5,93.74L318.0,93.72L318.5,93.71L319.0,93.69L319.5,93.68L320.0,93.67L320.5,93.65L321.0,93.64L321.5,93.62L322.0,93.60L322.5,93.58L323.0,93.56L323.5,93.54L324.0,93.51L324.5,93.48L325.0,93.44L325.5,93.39L326.0,93.32L326.5,93.24L327.0,93.14L327.5,93.03L328.0,92.91L328.5,92.78L329.0,92.65L329.5,92.50L330.0,92.35L330.5,92.16L331.0,91.94L331.5,91.69L332.0,91.42L332.5,91.14L333.0,90.85L333.5,90.57L334.0,90.29L334.5,90.02L335.0,89.77L335.5,89.52L336.0,89.27L336.5,89.03L337.0,88.78L337.5,88.53L338.0,88.27L338.5,88.01L339.0,87.74L339.5,87.46L340.0,87.18L340.5,86.90L341.0,86.61L341.5,86.32L342.0,86.01L342.5,85.70L343.0,85.37L343.5,85.02L344.0,84.65L344.5,84.26L345.0,83.84L345.5,83.39L346.0,82.91L346.5,82.40L347.0,81.87L347.5,81.31L348.0,80.72L348.5,80.08L349.0,79.35L349.5,78.58L350.0,77.78L350.5,76.98L351.0,76.21L351.5,75.49L352.0,74.83L352.5,74.21L353.0,73.60L353.5,73.02L354.0,72.45L354.5,71.89L355.0,71.34L355.5,70.81L356.0,70.28L356.5,69.78L357.0,69.28L357.5,68.79L358.0,68.30L358.5,67.82L359.0,67.32L359.5,66.81L360.0,66.28L360.5,65.75L361.0,65.22L361.5,64.71L362.0,64.23L362.5,63.78L363.0,63.38L363.5,62.98L364.0,62.59L364.5,62.22L365.0,61.89L365.5,61.59L366.0,61.34L366.5,61.15L367.0,60.97L367.5,60.79L368.0,60.64L368.5,60.50L369.0,60.40L369.5,60.34L370.0,60.32L370.5,60.38L371.0,60.50L371.5,60.68L372.0,60.91L372.5,61.17L373.0,61.46L373.5,61.76L374.0,62.11L374.5,62.60L375.0,63.20L375.5,63.85L376.0,64.55L376.5,65.23L377.0,65.88L377.5,66.47L378.0,67.04L378.5,67.61L379.0,68.17L379.5,68.73L380.0,69.30L380.5,69.86L381.0,70.43L381.5,71.01L382.0,71.59L382.5,72.17L383.0,72.75L383.5,73.33L384.0,73.91L384.5,74.50L385.0,75.10L385.5,75.70L386.0,76.32L386.5,76.93L387.0,77.54L387.5,78.13L388.0,78.70L388.5,79.24L389.0,79.76L389.5,80.27L390.0,80.76L390.5,81.25L391.0,81.73L391.5,82.22L392.0,82.72L392.5,83.24L393.0,83.77L393.5,84.32L394.0,84.86L394.5,85.40L395.0,85.92L395.5,86.41L396.0,86.87L396.5,87.29L397.0,87.66L397.5,88.01L398.0,88.34L398.5,88.65L399.0,88.95L399.5,89.23L400.0,89.50L400.5,89.75L401.0,89.99L401.5,90.22L402.0,90.44L402.5,90.66L403.0,90.87L403.5,91.08L404.0,91.28L404.5,91.48L405.0,91.66L405.5,91.84L406.0,92.00L406.5,92.14L407.0,92.27L407.5,92.39L408.0,92.48L408.5,92.57L409.0,92.65L409.5,92.74L410.0,92.82L410.5,92.89L411.0,92.96L411.5,93.03L412.0,93.09L412.5,93.15L413.0,93.21L413.5,93.26L414.0,93.30L414.5,93.34L415.0,93.38L415.5,93.41L416.0,93.44L416.5,93.47L417.0,93.49L417.5,93.51L418.0,93.53L418.5,93.54L419.0,93.56L419.5,93.58L420.0,93.59L420.5,93.60L421.0,93.62L421.5,93.63L422.0,93.64L422.5,93.65L423.0,93.66L423.5,93.67L424.0,93.68L424.5,93.69L425.0,93.70L425.5,93.71L426.0,93.72L426.5,93.73L427.0,93.74L427.5,93.75L428.0,93.76L428.5,93.77L429.0,93.78L429.5,93.78L430.0,93.79L430.5,93.80L431.0,93.81L431.5,93.81L432.0,93.82L432.5,93.83L433.0,93.83L433.5,93.84L434.0,93.85L434.5,93.85L435.0,93.86L435.5,93.86L436.0,93.87L436.5,93.87L437.0,93.88L437.5,93.88L438.0,93.89L438.5,93.89L439.0,93.89L439.5,93.90L440.0,93.90L440.5,93.91L441.0,93.91L441.5,93.91L442.0,93.92L442.5,93.92L443.0,93.92L443.5,93.93L444.0,93.93L444.5,93.93L445.0,93.93L445.5,93.94L446.0,93.94L446.5,93.94L447.0,93.94L447.5,93.95L448.0,93.95L448.5,93.95L449.0,93.95L449.5,93.96L450.0,93.96L450.5,93.96L451.0,93.96L451.5,93.96L452.0,93.97L452.5,93.97L453.0,93.97L453.0,94.02Z" fill="#A3A3A3"/>
<rect x="384.30" y="74.27" width="1.2" height="19.75" fill="#fff"/>
<path d="M321.0,135.44L321.0,135.39L321.5,135.39L322.0,135.39L322.5,135.38L323.0,135.38L323.5,135.38L324.0,135.38L324.5,135.37L325.0,135.37L325.5,135.37L326.0,135.37L326.5,135.36L327.0,135.36L327.5,135.36L328.0,135.35L328.5,135.35L329.0,135.35L329.5,135.34L330.0,135.34L330.5,135.33L331.0,135.33L331.5,135.32L332.0,135.32L332.5,135.32L333.0,135.31L333.5,135.30L334.0,135.30L334.5,135.29L335.0,135.29L335.5,135.28L336.0,135.28L336.5,135.27L337.0,135.26L337.5,135.25L338.0,135.25L338.5,135.24L339.0,135.23L339.5,135.22L340.0,135.22L340.5,135.21L341.0,135.20L341.5,135.19L342.0,135.18L342.5,135.17L343.0,135.16L343.5,135.15L344.0,135.14L344.5,135.12L345.0,135.10L345.5,135.07L346.0,135.03L346.5,134.96L347.0,134.89L347.5,134.80L348.0,134.70L348.5,134.59L349.0,134.48L349.5,134.36L350.0,134.24L350.5,134.12L351.0,134.00L351.5,133.88L352.0,133.75L352.5,133.62L353.0,133.48L353.5,133.33L354.0,133.17L354.5,133.01L355.0,132.84L355.5,132.67L356.0,132.49L356.5,132.32L357.0,132.14L357.5,131.96L358.0,131.77L358.5,131.57L359.0,131.37L359.5,131.17L360.0,130.95L360.5,130.74L361.0,130.52L361.5,130.29L362.0,130.06L362.5,129.82L363.0,129.59L363.5,129.34L364.0,129.10L364.5,128.84L365.0,128.59L365.5,128.32L366.0,128.05L366.5,127.78L367.0,127.50L367.5,127.21L368.0,126.91L368.5,126.61L369.0,126.30L369.5,125.98L370.0,125.64L370.5,125.29L371.0,124.93L371.5,124.55L372.0,124.17L372.5,123.78L373.0,123.38L373.5,122.98L374.0,122.58L374.5,122.18L375.0,121.77L375.5,121.35L376.0,120.93L376.5,120.50L377.0,120.06L377.5,119.63L378.0,119.19L378.5,118.75L379.0,118.31L379.5,117.88L380.0,117.44L380.5,117.01L381.0,116.57L381.5,116.13L382.0,115.69L382.5,115.25L383.0,114.81L383.5,114.37L384.0,113.93L384.5,113.48L385.0,113.03L385.5,112.57L386.0,112.10L386.5,111.64L387.0,111.19L387.5,110.74L388.0,110.32L388.5,109.92L389.0,109.54L389.5,109.19L390.0,108.86L390.5,108.54L391.0,108.24L391.5,107.94L392.0,107.65L392.5,107.37L393.0,107.08L393.5,106.78L394.0,106.48L394.5,106.14L395.0,105.79L395.5,105.43L396.0,105.08L396.5,104.77L397.0,104.52L397.5,104.34L398.0,104.21L398.5,104.08L399.0,103.98L399.5,103.90L400.0,103.85L400.5,103.85L401.0,103.98L401.5,104.22L402.0,104.55L402.5,104.93L403.0,105.34L403.5,105.76L404.0,106.19L404.5,106.72L405.0,107.31L405.5,107.95L406.0,108.61L406.5,109.27L407.0,109.90L407.5,110.49L408.0,111.08L408.5,111.66L409.0,112.24L409.5,112.82L410.0,113.40L410.5,113.98L411.0,114.56L411.5,115.14L412.0,115.71L412.5,116.29L413.0,116.87L413.5,117.45L414.0,118.04L414.5,118.62L415.0,119.22L415.5,119.83L416.0,120.44L416.5,121.06L417.0,121.67L417.5,122.26L418.0,122.82L418.5,123.36L419.0,123.88L419.5,124.38L420.0,124.87L420.5,125.35L421.0,125.82L421.5,126.28L422.0,126.73L422.5,127.18L423.0,127.64L423.5,128.09L424.0,128.52L424.5,128.94L425.0,129.32L425.5,129.67L426.0,130.00L426.5,130.31L427.0,130.60L427.5,130.89L428.0,131.16L428.5,131.42L429.0,131.66L429.5,131.89L430.0,132.10L430.5,132.29L431.0,132.47L431.5,132.64L432.0,132.81L432.5,132.98L433.0,133.13L433.5,133.28L434.0,133.42L434.5,133.55L435.0,133.67L435.5,133.78L436.0,133.87L436.5,133.96L437.0,134.04L437.5,134.11L438.0,134.17L438.5,134.23L439.0,134.29L439.5,134.34L440.0,134.39L440.5,134.44L441.0,134.49L441.5,134.53L442.0,134.58L442.5,134.63L443.0,134.67L443.5,134.72L444.0,134.78L444.5,134.83L445.0,134.89L445.5,134.95L446.0,135.00L446.5,135.05L447.0,135.09L447.5,135.13L448.0,135.16L448.5,135.19L449.0,135.21L449.5,135.24L450.0,135.26L450.5,135.28L451.0,135.29L451.5,135.31L452.0,135.32L452.5,135.33L453.0,135.34L453.5,135.35L454.0,135.36L454.5,135.37L455.0,135.38L455.5,135.38L456.0,135.39L456.0,135.44Z" fill="#A3A3A3"/>
<rect x="384.30" y="112.57" width="1.2" height="22.87" fill="#fff"/>
<path d="M310.0,176.86L310.0,176.81L310.5,176.81L311.0,176.81L311.5,176.80L312.0,176.80L312.5,176.80L313.0,176.80L313.5,176.80L314.0,176.80L314.5,176.80L315.0,176.79L315.5,176.79L316.0,176.79L316.5,176.79L317.0,176.79L317.5,176.78L318.0,176.78L318.5,176.78L319.0,176.78L319.5,176.78L320.0,176.77L320.5,176.77L321.0,176.77L321.5,176.77L322.0,176.77L322.5,176.76L323.0,176.76L323.5,176.76L324.0,176.75L324.5,176.75L325.0,176.75L325.5,176.75L326.0,176.74L326.5,176.74L327.0,176.74L327.5,176.73L328.0,176.73L328.5,176.73L329.0,176.72L329.5,176.72L330.0,176.71L330.5,176.71L331.0,176.71L331.5,176.70L332.0,176.70L332.5,176.69L333.0,176.69L333.5,176.68L334.0,176.68L334.5,176.67L335.0,176.67L335.5,176.66L336.0,176.66L336.5,176.65L337.0,176.65L337.5,176.64L338.0,176.64L338.5,176.63L339.0,176.62L339.5,176.62L340.0,176.61L340.5,176.60L341.0,176.60L341.5,176.59L342.0,176.59L342.5,176.58L343.0,176.57L343.5,176.57L344.0,176.56L344.5,176.55L345.0,176.55L345.5,176.54L346.0,176.53L346.5,176.52L347.0,176.52L347.5,176.51L348.0,176.50L348.5,176.49L349.0,176.47L349.5,176.46L350.0,176.45L350.5,176.43L351.0,176.41L351.5,176.39L352.0,176.35L352.5,176.30L353.0,176.24L353.5,176.16L354.0,176.08L354.5,175.99L355.0,175.89L355.5,175.78L356.0,175.67L356.5,175.56L357.0,175.44L357.5,175.32L358.0,175.18L358.5,175.02L359.0,174.84L359.5,174.65L360.0,174.45L360.5,174.23L361.0,174.02L361.5,173.80L362.0,173.58L362.5,173.36L363.0,173.16L363.5,172.96L364.0,172.76L364.5,172.56L365.0,172.36L365.5,172.16L366.0,171.96L366.5,171.75L367.0,171.55L367.5,171.35L368.0,171.14L368.5,170.93L369.0,170.73L369.5,170.52L370.0,170.31L370.5,170.11L371.0,169.90L371.5,169.70L372.0,169.49L372.5,169.28L373.0,169.06L373.5,168.84L374.0,168.60L374.5,168.36L375.0,168.12L375.5,167.86L376.0,167.61L376.5,167.34L377.0,167.07L377.5,166.78L378.0,166.47L378.5,166.15L379.0,165.80L379.5,165.44L380.0,165.04L380.5,164.60L381.0,164.14L381.5,163.65L382.0,163.14L382.5,162.61L383.0,162.05L383.5,161.47L384.0,160.88L384.5,160.25L385.0,159.54L385.5,158.77L386.0,157.98L386.5,157.18L387.0,156.40L387.5,155.67L388.0,155.00L388.5,154.38L389.0,153.79L389.5,153.22L390.0,152.66L390.5,152.10L391.0,151.54L391.5,150.96L392.0,150.34L392.5,149.67L393.0,148.99L393.5,148.33L394.0,147.71L394.5,147.17L395.0,146.73L395.5,146.38L396.0,146.04L396.5,145.71L397.0,145.41L397.5,145.17L398.0,144.98L398.5,144.88L399.0,144.86L399.5,144.86L400.0,144.86L400.5,144.86L401.0,144.86L401.5,144.86L402.0,144.86L402.5,144.86L403.0,144.86L403.5,144.86L404.0,144.88L404.5,144.94L405.0,145.04L405.5,145.18L406.0,145.35L406.5,145.55L407.0,145.77L407.5,146.00L408.0,146.25L408.5,146.51L409.0,146.85L409.5,147.28L410.0,147.78L410.5,148.34L411.0,148.95L411.5,149.59L412.0,150.23L412.5,150.91L413.0,151.67L413.5,152.49L414.0,153.36L414.5,154.24L415.0,155.12L415.5,155.97L416.0,156.78L416.5,157.58L417.0,158.38L417.5,159.17L418.0,159.95L418.5,160.70L419.0,161.42L419.5,162.09L420.0,162.73L420.5,163.34L421.0,163.94L421.5,164.51L422.0,165.07L422.5,165.61L423.0,166.15L423.5,166.69L424.0,167.24L424.5,167.77L425.0,168.30L425.5,168.80L426.0,169.28L426.5,169.72L427.0,170.11L427.5,170.49L428.0,170.86L428.5,171.20L429.0,171.54L429.5,171.85L430.0,172.15L430.5,172.43L431.0,172.70L431.5,172.94L432.0,173.17L432.5,173.39L433.0,173.61L433.5,173.82L434.0,174.02L434.5,174.21L435.0,174.39L435.5,174.56L436.0,174.72L436.5,174.86L437.0,174.99L437.5,175.11L438.0,175.21L438.5,175.30L439.0,175.39L439.5,175.47L440.0,175.55L440.5,175.62L441.0,175.69L441.5,175.75L442.0,175.82L442.5,175.88L443.0,175.93L443.5,175.99L444.0,176.04L444.5,176.10L445.0,176.15L445.5,176.21L446.0,176.26L446.5,176.32L447.0,176.38L447.5,176.44L448.0,176.49L448.5,176.54L449.0,176.57L449.5,176.61L450.0,176.64L450.5,176.66L451.0,176.69L451.5,176.71L452.0,176.72L452.5,176.74L453.0,176.75L453.5,176.77L454.0,176.78L454.5,176.79L455.0,176.79L455.5,176.80L456.0,176.81L456.0,176.86Z" fill="#A3A3A3"/>
<rect x="384.30" y="158.77" width="1.2" height="18.09" fill="#fff"/>
<path d="M311.0,218.28L311.0,218.23L311.5,218.23L312.0,218.23L312.5,218.22L313.0,218.22L313.5,218.22L314.0,218.22L314.5,218.21L315.0,218.21L315.5,218.21L316.0,218.21L316.5,218.20L317.0,218.20L317.5,218.20L318.0,218.19L318.5,218.19L319.0,218.19L319.5,218.18L320.0,218.18L320.5,218.17L321.0,218.17L321.5,218.16L322.0,218.16L322.5,218.16L323.0,218.15L323.5,218.14L324.0,218.14L324.5,218.13L325.0,218.13L325.5,218.12L326.0,218.12L326.5,218.11L327.0,218.10L327.5,218.09L328.0,218.09L328.5,218.08L329.0,218.07L329.5,218.06L330.0,218.06L330.5,218.05L331.0,218.04L331.5,218.03L332.0,218.02L332.5,218.01L333.0,218.00L333.5,217.99L334.0,217.98L334.5,217.96L335.0,217.94L335.5,217.91L336.0,217.86L336.5,217.78L337.0,217.69L337.5,217.58L338.0,217.46L338.5,217.33L339.0,217.19L339.5,217.05L340.0,216.90L340.5,216.76L341.0,216.62L341.5,216.48L342.0,216.33L342.5,216.17L343.0,216.00L343.5,215.83L344.0,215.65L344.5,215.46L345.0,215.28L345.5,215.09L346.0,214.90L346.5,214.71L347.0,214.53L347.5,214.35L348.0,214.17L348.5,213.99L349.0,213.82L349.5,213.64L350.0,213.47L350.5,213.29L351.0,213.11L351.5,212.92L352.0,212.72L352.5,212.52L353.0,212.31L353.5,212.09L354.0,211.86L354.5,211.62L355.0,211.38L355.5,211.12L356.0,210.86L356.5,210.59L357.0,210.31L357.5,210.03L358.0,209.73L358.5,209.43L359.0,209.13L359.5,208.82L360.0,208.50L360.5,208.16L361.0,207.82L361.5,207.47L362.0,207.10L362.5,206.73L363.0,206.34L363.5,205.94L364.0,205.53L364.5,205.11L365.0,204.65L365.5,204.17L366.0,203.67L366.5,203.15L367.0,202.62L367.5,202.09L368.0,201.57L368.5,201.06L369.0,200.57L369.5,200.10L370.0,199.62L370.5,199.15L371.0,198.68L371.5,198.21L372.0,197.76L372.5,197.32L373.0,196.90L373.5,196.51L374.0,196.15L374.5,195.82L375.0,195.51L375.5,195.22L376.0,194.95L376.5,194.68L377.0,194.43L377.5,194.17L378.0,193.92L378.5,193.65L379.0,193.38L379.5,193.09L380.0,192.79L380.5,192.48L381.0,192.16L381.5,191.85L382.0,191.55L382.5,191.26L383.0,190.99L383.5,190.75L384.0,190.54L384.5,190.33L385.0,190.12L385.5,189.91L386.0,189.71L386.5,189.53L387.0,189.38L387.5,189.27L388.0,189.20L388.5,189.18L389.0,189.19L389.5,189.21L390.0,189.24L390.5,189.28L391.0,189.33L391.5,189.38L392.0,189.47L392.5,189.62L393.0,189.83L393.5,190.08L394.0,190.38L394.5,190.70L395.0,191.05L395.5,191.41L396.0,191.78L396.5,192.20L397.0,192.71L397.5,193.29L398.0,193.92L398.5,194.57L399.0,195.21L399.5,195.84L400.0,196.44L400.5,197.04L401.0,197.66L401.5,198.28L402.0,198.89L402.5,199.48L403.0,200.05L403.5,200.59L404.0,201.11L404.5,201.62L405.0,202.11L405.5,202.60L406.0,203.07L406.5,203.53L407.0,203.98L407.5,204.43L408.0,204.88L408.5,205.32L409.0,205.75L409.5,206.16L410.0,206.56L410.5,206.94L411.0,207.29L411.5,207.61L412.0,207.92L412.5,208.21L413.0,208.50L413.5,208.80L414.0,209.09L414.5,209.41L415.0,209.73L415.5,210.06L416.0,210.39L416.5,210.72L417.0,211.05L417.5,211.37L418.0,211.68L418.5,211.99L419.0,212.29L419.5,212.60L420.0,212.90L420.5,213.20L421.0,213.49L421.5,213.77L422.0,214.03L422.5,214.27L423.0,214.50L423.5,214.72L424.0,214.93L424.5,215.14L425.0,215.34L425.5,215.53L426.0,215.72L426.5,215.90L427.0,216.06L427.5,216.22L428.0,216.36L428.5,216.48L429.0,216.59L429.5,216.69L430.0,216.78L430.5,216.87L431.0,216.96L431.5,217.04L432.0,217.11L432.5,217.18L433.0,217.25L433.5,217.31L434.0,217.37L434.5,217.43L435.0,217.48L435.5,217.53L436.0,217.58L436.5,217.62L437.0,217.66L437.5,217.70L438.0,217.74L438.5,217.77L439.0,217.81L439.5,217.84L440.0,217.87L440.5,217.89L441.0,217.92L441.5,217.94L442.0,217.96L442.5,217.98L443.0,218.00L443.5,218.02L444.0,218.04L444.5,218.05L445.0,218.07L445.5,218.08L446.0,218.09L446.5,218.10L447.0,218.12L447.5,218.13L448.0,218.14L448.5,218.15L449.0,218.15L449.5,218.16L450.0,218.17L450.5,218.18L451.0,218.18L451.5,218.19L452.0,218.19L452.5,218.20L453.0,218.20L453.5,218.21L454.0,218.21L454.5,218.22L455.0,218.22L455.5,218.23L456.0,218.23L456.0,218.28Z" fill="#A3A3A3"/>
<rect x="384.30" y="189.91" width="1.2" height="28.37" fill="#fff"/>
<path d="M318.0,259.70L318.0,259.65L318.5,259.65L319.0,259.64L319.5,259.64L320.0,259.64L320.5,259.63L321.0,259.63L321.5,259.63L322.0,259.62L322.5,259.62L323.0,259.62L323.5,259.61L324.0,259.61L324.5,259.60L325.0,259.60L325.5,259.59L326.0,259.59L326.5,259.58L327.0,259.58L327.5,259.57L328.0,259.56L328.5,259.56L329.0,259.55L329.5,259.54L330.0,259.53L330.5,259.53L331.0,259.52L331.5,259.51L332.0,259.50L332.5,259.49L333.0,259.48L333.5,259.46L334.0,259.45L334.5,259.44L335.0,259.43L335.5,259.42L336.0,259.40L336.5,259.39L337.0,259.37L337.5,259.36L338.0,259.34L338.5,259.32L339.0,259.30L339.5,259.28L340.0,259.25L340.5,259.21L341.0,259.17L341.5,259.11L342.0,259.03L342.5,258.95L343.0,258.86L343.5,258.77L344.0,258.66L344.5,258.55L345.0,258.44L345.5,258.32L346.0,258.20L346.5,258.08L347.0,257.94L347.5,257.79L348.0,257.63L348.5,257.46L349.0,257.27L349.5,257.08L350.0,256.88L350.5,256.67L351.0,256.45L351.5,256.22L352.0,256.00L352.5,255.76L353.0,255.52L353.5,255.27L354.0,255.01L354.5,254.74L355.0,254.45L355.5,254.16L356.0,253.85L356.5,253.53L357.0,253.20L357.5,252.85L358.0,252.50L358.5,252.13L359.0,251.74L359.5,251.34L360.0,250.90L360.5,250.44L361.0,249.96L361.5,249.46L362.0,248.94L362.5,248.39L363.0,247.83L363.5,247.25L364.0,246.66L364.5,246.02L365.0,245.34L365.5,244.63L366.0,243.88L366.5,243.12L367.0,242.35L367.5,241.56L368.0,240.78L368.5,240.01L369.0,239.25L369.5,238.48L370.0,237.70L370.5,236.91L371.0,236.12L371.5,235.34L372.0,234.58L372.5,233.84L373.0,233.13L373.5,232.41L374.0,231.70L374.5,231.00L375.0,230.34L375.5,229.71L376.0,229.12L376.5,228.60L377.0,228.12L377.5,227.68L378.0,227.26L378.5,226.87L379.0,226.49L379.5,226.12L380.0,225.75L380.5,225.37L381.0,224.94L381.5,224.49L382.0,224.05L382.5,223.66L383.0,223.35L383.5,223.15L384.0,223.10L384.5,223.12L385.0,223.18L385.5,223.25L386.0,223.35L386.5,223.47L387.0,223.60L387.5,223.82L388.0,224.19L388.5,224.66L389.0,225.18L389.5,225.70L390.0,226.20L390.5,226.67L391.0,227.14L391.5,227.63L392.0,228.12L392.5,228.63L393.0,229.15L393.5,229.68L394.0,230.22L394.5,230.77L395.0,231.34L395.5,231.92L396.0,232.51L396.5,233.12L397.0,233.75L397.5,234.40L398.0,235.08L398.5,235.79L399.0,236.52L399.5,237.27L400.0,238.03L400.5,238.79L401.0,239.55L401.5,240.30L402.0,241.06L402.5,241.83L403.0,242.60L403.5,243.37L404.0,244.13L404.5,244.86L405.0,245.56L405.5,246.24L406.0,246.90L406.5,247.55L407.0,248.18L407.5,248.79L408.0,249.39L408.5,249.96L409.0,250.52L409.5,251.07L410.0,251.62L410.5,252.15L411.0,252.66L411.5,253.15L412.0,253.60L412.5,254.02L413.0,254.41L413.5,254.79L414.0,255.16L414.5,255.52L415.0,255.87L415.5,256.19L416.0,256.49L416.5,256.75L417.0,256.99L417.5,257.19L418.0,257.36L418.5,257.52L419.0,257.67L419.5,257.82L420.0,257.95L420.5,258.08L421.0,258.19L421.5,258.30L422.0,258.40L422.5,258.49L423.0,258.57L423.5,258.64L424.0,258.70L424.5,258.75L425.0,258.81L425.5,258.85L426.0,258.90L426.5,258.94L427.0,258.98L427.5,259.02L428.0,259.06L428.5,259.09L429.0,259.12L429.5,259.15L430.0,259.18L430.5,259.21L431.0,259.23L431.5,259.25L432.0,259.28L432.5,259.30L433.0,259.32L433.5,259.34L434.0,259.36L434.5,259.37L435.0,259.39L435.5,259.40L436.0,259.42L436.5,259.43L437.0,259.45L437.5,259.46L438.0,259.47L438.5,259.48L439.0,259.49L439.5,259.50L440.0,259.51L440.5,259.52L441.0,259.53L441.5,259.54L442.0,259.55L442.5,259.55L443.0,259.56L443.5,259.57L444.0,259.57L444.5,259.58L445.0,259.59L445.5,259.59L446.0,259.60L446.5,259.60L447.0,259.61L447.5,259.61L448.0,259.62L448.5,259.62L449.0,259.62L449.5,259.63L450.0,259.63L450.5,259.63L451.0,259.64L451.5,259.64L452.0,259.64L452.5,259.65L453.0,259.65L453.0,259.70Z" fill="#A3A3A3"/>
<rect x="384.30" y="223.11" width="1.2" height="36.59" fill="#fff"/>
<rect x="280.45" y="11.50" width="177.60" height="272.80" fill="none" stroke="#464646" stroke-width="1.15"/>
<line x1="278.25" y1="52.60" x2="280.45" y2="52.60" stroke="#3a3a3a" stroke-width="1"/>
<line x1="278.25" y1="94.02" x2="280.45" y2="94.02" stroke="#3a3a3a" stroke-width="1"/>
<line x1="278.25" y1="135.44" x2="280.45" y2="135.44" stroke="#3a3a3a" stroke-width="1"/>
<line x1="278.25" y1="176.86" x2="280.45" y2="176.86" stroke="#3a3a3a" stroke-width="1"/>
<line x1="278.25" y1="218.28" x2="280.45" y2="218.28" stroke="#3a3a3a" stroke-width="1"/>
<line x1="278.25" y1="259.70" x2="280.45" y2="259.70" stroke="#3a3a3a" stroke-width="1"/>
<line x1="288.70" y1="284.30" x2="288.70" y2="286.50" stroke="#3a3a3a" stroke-width="1"/>
<text x="288.70" y="293.80" font-family="Liberation Sans, sans-serif" font-size="7" fill="#555" stroke="#555" stroke-width="0.08" text-anchor="middle">2.0</text>
<line x1="325.30" y1="284.30" x2="325.30" y2="286.50" stroke="#3a3a3a" stroke-width="1"/>
<text x="325.30" y="293.80" font-family="Liberation Sans, sans-serif" font-size="7" fill="#555" stroke="#555" stroke-width="0.08" text-anchor="middle">2.5</text>
<line x1="362.00" y1="284.30" x2="362.00" y2="286.50" stroke="#3a3a3a" stroke-width="1"/>
<text x="362.00" y="293.80" font-family="Liberation Sans, sans-serif" font-size="7" fill="#555" stroke="#555" stroke-width="0.08" text-anchor="middle">3.0</text>
<line x1="398.60" y1="284.30" x2="398.60" y2="286.50" stroke="#3a3a3a" stroke-width="1"/>
<text x="398.60" y="293.80" font-family="Liberation Sans, sans-serif" font-size="7" fill="#555" stroke="#555" stroke-width="0.08" text-anchor="middle">3.5</text>
<line x1="435.20" y1="284.30" x2="435.20" y2="286.50" stroke="#3a3a3a" stroke-width="1"/>
<text x="435.20" y="293.80" font-family="Liberation Sans, sans-serif" font-size="7" fill="#555" stroke="#555" stroke-width="0.08" text-anchor="middle">4.0</text>
<text x="369.25" y="306.8" font-family="Liberation Sans, sans-serif" font-size="9.3" fill="#1a1a1a" stroke="#1a1a1a" stroke-width="0.14" text-anchor="middle">F2 hatch weight (mg)</text>
<text x="271.20" y="10.30" font-family="Liberation Sans, sans-serif" font-size="11.4" font-weight="bold" fill="#111" text-anchor="middle">(b)</text>
<text x="420.60" y="24.90" font-family="Liberation Sans, sans-serif" font-size="7.05" fill="#262626" stroke="#262626" stroke-width="0.08" text-anchor="middle">marginal R<tspan font-size="4.6" dy="-2.6">2</tspan><tspan dy="2.6"> 0.39</tspan></text>
<text x="420.60" y="35.70" font-family="Liberation Sans, sans-serif" font-size="7.05" fill="#262626" stroke="#262626" stroke-width="0.08" text-anchor="middle">conditional R<tspan font-size="4.6" dy="-2.6">2</tspan><tspan dy="2.6"> 0.64</tspan></text>
<text x="464.50" y="26.50" font-family="Liberation Sans, sans-serif" font-size="6.6" font-style="italic" fill="#262626" stroke="#262626" stroke-width="0.12" text-anchor="middle">n</text>
<text x="464.50" y="49.30" font-family="Liberation Sans, sans-serif" font-size="6.6" fill="#6a6a6a" stroke="#6a6a6a" stroke-width="0.1" text-anchor="middle">58</text>
<text x="464.50" y="90.72" font-family="Liberation Sans, sans-serif" font-size="6.6" fill="#6a6a6a" stroke="#6a6a6a" stroke-width="0.1" text-anchor="middle">100</text>
<text x="464.50" y="132.14" font-family="Liberation Sans, sans-serif" font-size="6.6" fill="#6a6a6a" stroke="#6a6a6a" stroke-width="0.1" text-anchor="middle">80</text>
<text x="464.50" y="173.56" font-family="Liberation Sans, sans-serif" font-size="6.6" fill="#6a6a6a" stroke="#6a6a6a" stroke-width="0.1" text-anchor="middle">140</text>
<text x="464.50" y="214.98" font-family="Liberation Sans, sans-serif" font-size="6.6" fill="#6a6a6a" stroke="#6a6a6a" stroke-width="0.1" text-anchor="middle">80</text>
<text x="464.50" y="256.40" font-family="Liberation Sans, sans-serif" font-size="6.6" fill="#6a6a6a" stroke="#6a6a6a" stroke-width="0.1" text-anchor="middle">138</text>
<text x="282.70" y="49.50" font-family="Liberation Sans, sans-serif" font-size="8.4" fill="#2a2a2a" stroke="#2a2a2a" stroke-width="0.12">97%</text>
<text x="309.80" y="91.10" font-family="Liberation Sans, sans-serif" font-size="8.4" fill="#2a2a2a" stroke="#2a2a2a" stroke-width="0.12">82%</text>
<text x="438.20" y="132.70" font-family="Liberation Sans, sans-serif" font-size="8.4" fill="#2a2a2a" stroke="#2a2a2a" stroke-width="0.12">74%</text>
<text x="440.50" y="173.40" font-family="Liberation Sans, sans-serif" font-size="8.4" fill="#2a2a2a" stroke="#2a2a2a" stroke-width="0.12">80%</text>
<text x="430.60" y="215.20" font-family="Liberation Sans, sans-serif" font-size="8.4" fill="#2a2a2a" stroke="#2a2a2a" stroke-width="0.12">55%</text>
<circle cx="254.40" cy="53.60" r="2.85" fill="none" stroke="#DD6314" stroke-width="1.0"/>
<line x1="256.30" y1="51.70" x2="259.30" y2="49.20" stroke="#DD6314" stroke-width="1.15"/>
<path d="M260.40,48.40 L257.40,48.60 L260.00,51.20 Z" fill="#DD6314"/>
<circle cx="264.10" cy="50.75" r="2.55" fill="none" stroke="#4DB0E6" stroke-width="1.1"/>
<line x1="264.10" y1="53.35" x2="264.10" y2="56.95" stroke="#4DB0E6" stroke-width="1.2"/>
<line x1="262.40" y1="55.25" x2="265.80" y2="55.25" stroke="#4DB0E6" stroke-width="1.0"/>
<circle cx="273.10" cy="52.40" r="4.55" fill="#DD6314"/>
<path d="M270.00,55.60 L268.20,57.70" stroke="#DD6314" stroke-width="0.8" opacity="0.75"/>
<circle cx="274.90" cy="50.60" r="0.75" fill="#fff" opacity="0.9"/>
<circle cx="272.00" cy="53.30" r="1.35" fill="none" stroke="#fff" stroke-width="0.55" opacity="0.75"/>
<path d="M271.10,54.30 L269.70,55.90" stroke="#fff" stroke-width="0.55" opacity="0.7"/>
<circle cx="254.40" cy="95.02" r="2.85" fill="none" stroke="#4DB0E6" stroke-width="1.0"/>
<line x1="256.30" y1="93.12" x2="259.30" y2="90.62" stroke="#4DB0E6" stroke-width="1.15"/>
<path d="M260.40,89.82 L257.40,90.02 L260.00,92.62 Z" fill="#4DB0E6"/>
<circle cx="264.10" cy="92.17" r="2.55" fill="none" stroke="#4DB0E6" stroke-width="1.1"/>
<line x1="264.10" y1="94.77" x2="264.10" y2="98.37" stroke="#4DB0E6" stroke-width="1.2"/>
<line x1="262.40" y1="96.67" x2="265.80" y2="96.67" stroke="#4DB0E6" stroke-width="1.0"/>
<circle cx="273.10" cy="93.82" r="4.55" fill="#DD6314"/>
<path d="M270.00,97.02 L268.20,99.12" stroke="#DD6314" stroke-width="0.8" opacity="0.75"/>
<circle cx="274.90" cy="92.02" r="0.75" fill="#fff" opacity="0.9"/>
<circle cx="272.00" cy="94.72" r="1.35" fill="none" stroke="#fff" stroke-width="0.55" opacity="0.75"/>
<path d="M271.10,95.72 L269.70,97.32" stroke="#fff" stroke-width="0.55" opacity="0.7"/>
<circle cx="254.40" cy="136.44" r="2.85" fill="none" stroke="#DD6314" stroke-width="1.0"/>
<line x1="256.30" y1="134.54" x2="259.30" y2="132.04" stroke="#DD6314" stroke-width="1.15"/>
<path d="M260.40,131.24 L257.40,131.44 L260.00,134.04 Z" fill="#DD6314"/>
<circle cx="264.10" cy="133.59" r="2.55" fill="none" stroke="#DD6314" stroke-width="1.1"/>
<line x1="264.10" y1="136.19" x2="264.10" y2="139.79" stroke="#DD6314" stroke-width="1.2"/>
<line x1="262.40" y1="138.09" x2="265.80" y2="138.09" stroke="#DD6314" stroke-width="1.0"/>
<circle cx="273.10" cy="135.24" r="4.55" fill="#4DB0E6"/>
<path d="M270.00,138.44 L268.20,140.54" stroke="#4DB0E6" stroke-width="0.8" opacity="0.75"/>
<circle cx="274.90" cy="133.44" r="0.75" fill="#fff" opacity="0.9"/>
<circle cx="272.00" cy="136.14" r="1.35" fill="none" stroke="#fff" stroke-width="0.55" opacity="0.75"/>
<path d="M271.10,137.14 L269.70,138.74" stroke="#fff" stroke-width="0.55" opacity="0.7"/>
<circle cx="254.40" cy="177.86" r="2.85" fill="none" stroke="#4DB0E6" stroke-width="1.0"/>
<line x1="256.30" y1="175.96" x2="259.30" y2="173.46" stroke="#4DB0E6" stroke-width="1.15"/>
<path d="M260.40,172.66 L257.40,172.86 L260.00,175.46 Z" fill="#4DB0E6"/>
<circle cx="264.10" cy="175.01" r="2.55" fill="none" stroke="#DD6314" stroke-width="1.1"/>
<line x1="264.10" y1="177.61" x2="264.10" y2="181.21" stroke="#DD6314" stroke-width="1.2"/>
<line x1="262.40" y1="179.51" x2="265.80" y2="179.51" stroke="#DD6314" stroke-width="1.0"/>
<circle cx="273.10" cy="176.66" r="4.55" fill="#4DB0E6"/>
<path d="M270.00,179.86 L268.20,181.96" stroke="#4DB0E6" stroke-width="0.8" opacity="0.75"/>
<circle cx="274.90" cy="174.86" r="0.75" fill="#fff" opacity="0.9"/>
<circle cx="272.00" cy="177.56" r="1.35" fill="none" stroke="#fff" stroke-width="0.55" opacity="0.75"/>
<path d="M271.10,178.56 L269.70,180.16" stroke="#fff" stroke-width="0.55" opacity="0.7"/>
<circle cx="254.40" cy="219.28" r="2.85" fill="none" stroke="#DD6314" stroke-width="1.0"/>
<line x1="256.30" y1="217.38" x2="259.30" y2="214.88" stroke="#DD6314" stroke-width="1.15"/>
<path d="M260.40,214.08 L257.40,214.28 L260.00,216.88 Z" fill="#DD6314"/>
<circle cx="264.10" cy="216.43" r="2.55" fill="none" stroke="#4DB0E6" stroke-width="1.1"/>
<line x1="264.10" y1="219.03" x2="264.10" y2="222.63" stroke="#4DB0E6" stroke-width="1.2"/>
<line x1="262.40" y1="220.93" x2="265.80" y2="220.93" stroke="#4DB0E6" stroke-width="1.0"/>
<circle cx="273.10" cy="218.08" r="4.55" fill="#4DB0E6"/>
<path d="M270.00,221.28 L268.20,223.38" stroke="#4DB0E6" stroke-width="0.8" opacity="0.75"/>
<circle cx="274.90" cy="216.28" r="0.75" fill="#fff" opacity="0.9"/>
<circle cx="272.00" cy="218.98" r="1.35" fill="none" stroke="#fff" stroke-width="0.55" opacity="0.75"/>
<path d="M271.10,219.98 L269.70,221.58" stroke="#fff" stroke-width="0.55" opacity="0.7"/>
<circle cx="254.40" cy="260.70" r="2.85" fill="none" stroke="#4DB0E6" stroke-width="1.0"/>
<line x1="256.30" y1="258.80" x2="259.30" y2="256.30" stroke="#4DB0E6" stroke-width="1.15"/>
<path d="M260.40,255.50 L257.40,255.70 L260.00,258.30 Z" fill="#4DB0E6"/>
<circle cx="264.10" cy="257.85" r="2.55" fill="none" stroke="#4DB0E6" stroke-width="1.1"/>
<line x1="264.10" y1="260.45" x2="264.10" y2="264.05" stroke="#4DB0E6" stroke-width="1.2"/>
<line x1="262.40" y1="262.35" x2="265.80" y2="262.35" stroke="#4DB0E6" stroke-width="1.0"/>
<circle cx="273.10" cy="259.50" r="4.55" fill="#4DB0E6"/>
<path d="M270.00,262.70 L268.20,264.80" stroke="#4DB0E6" stroke-width="0.8" opacity="0.75"/>
<circle cx="274.90" cy="257.70" r="0.75" fill="#fff" opacity="0.9"/>
<circle cx="272.00" cy="260.40" r="1.35" fill="none" stroke="#fff" stroke-width="0.55" opacity="0.75"/>
<path d="M271.10,261.40 L269.70,263.00" stroke="#fff" stroke-width="0.55" opacity="0.7"/>
<path d="M523.0,52.50L523.0,52.45L523.5,52.45L524.0,52.44L524.5,52.44L525.0,52.44L525.5,52.44L526.0,52.43L526.5,52.43L527.0,52.43L527.5,52.43L528.0,52.42L528.5,52.42L529.0,52.42L529.5,52.41L530.0,52.41L530.5,52.40L531.0,52.40L531.5,52.40L532.0,52.39L532.5,52.39L533.0,52.38L533.5,52.38L534.0,52.37L534.5,52.36L535.0,52.36L535.5,52.35L536.0,52.35L536.5,52.34L537.0,52.33L537.5,52.32L538.0,52.32L538.5,52.31L539.0,52.30L539.5,52.29L540.0,52.28L540.5,52.27L541.0,52.26L541.5,52.26L542.0,52.25L542.5,52.24L543.0,52.22L543.5,52.21L544.0,52.20L544.5,52.18L545.0,52.16L545.5,52.14L546.0,52.11L546.5,52.07L547.0,52.02L547.5,51.97L548.0,51.92L548.5,51.86L549.0,51.79L549.5,51.72L550.0,51.65L550.5,51.58L551.0,51.50L551.5,51.42L552.0,51.34L552.5,51.25L553.0,51.14L553.5,51.04L554.0,50.92L554.5,50.80L555.0,50.67L555.5,50.53L556.0,50.39L556.5,50.24L557.0,50.09L557.5,49.93L558.0,49.74L558.5,49.54L559.0,49.32L559.5,49.08L560.0,48.84L560.5,48.58L561.0,48.32L561.5,48.06L562.0,47.79L562.5,47.52L563.0,47.26L563.5,47.00L564.0,46.73L564.5,46.47L565.0,46.20L565.5,45.93L566.0,45.65L566.5,45.37L567.0,45.09L567.5,44.80L568.0,44.51L568.5,44.22L569.0,43.93L569.5,43.64L570.0,43.35L570.5,43.06L571.0,42.77L571.5,42.47L572.0,42.17L572.5,41.87L573.0,41.55L573.5,41.23L574.0,40.90L574.5,40.56L575.0,40.21L575.5,39.85L576.0,39.49L576.5,39.11L577.0,38.72L577.5,38.33L578.0,37.93L578.5,37.51L579.0,37.09L579.5,36.66L580.0,36.22L580.5,35.74L581.0,35.24L581.5,34.72L582.0,34.19L582.5,33.66L583.0,33.14L583.5,32.65L584.0,32.19L584.5,31.75L585.0,31.33L585.5,30.90L586.0,30.49L586.5,30.09L587.0,29.70L587.5,29.34L588.0,28.99L588.5,28.68L589.0,28.40L589.5,28.14L590.0,27.88L590.5,27.62L591.0,27.38L591.5,27.16L592.0,26.95L592.5,26.76L593.0,26.61L593.5,26.48L594.0,26.38L594.5,26.30L595.0,26.22L595.5,26.15L596.0,26.09L596.5,26.05L597.0,26.01L597.5,26.00L598.0,26.02L598.5,26.09L599.0,26.22L599.5,26.38L600.0,26.58L600.5,26.81L601.0,27.06L601.5,27.32L602.0,27.59L602.5,27.85L603.0,28.18L603.5,28.56L604.0,28.99L604.5,29.46L605.0,29.95L605.5,30.43L606.0,30.90L606.5,31.36L607.0,31.84L607.5,32.32L608.0,32.81L608.5,33.30L609.0,33.80L609.5,34.30L610.0,34.80L610.5,35.32L611.0,35.85L611.5,36.38L612.0,36.91L612.5,37.42L613.0,37.92L613.5,38.38L614.0,38.83L614.5,39.26L615.0,39.67L615.5,40.08L616.0,40.49L616.5,40.89L617.0,41.30L617.5,41.71L618.0,42.13L618.5,42.55L619.0,42.96L619.5,43.37L620.0,43.77L620.5,44.15L621.0,44.52L621.5,44.89L622.0,45.25L622.5,45.60L623.0,45.95L623.5,46.29L624.0,46.62L624.5,46.94L625.0,47.25L625.5,47.54L626.0,47.83L626.5,48.11L627.0,48.39L627.5,48.67L628.0,48.94L628.5,49.19L629.0,49.43L629.5,49.65L630.0,49.85L630.5,50.02L631.0,50.19L631.5,50.34L632.0,50.49L632.5,50.64L633.0,50.77L633.5,50.90L634.0,51.02L634.5,51.13L635.0,51.24L635.5,51.33L636.0,51.41L636.5,51.48L637.0,51.53L637.5,51.59L638.0,51.64L638.5,51.68L639.0,51.73L639.5,51.77L640.0,51.80L640.5,51.84L641.0,51.87L641.5,51.91L642.0,51.94L642.5,51.97L643.0,52.00L643.5,52.03L644.0,52.06L644.5,52.09L645.0,52.11L645.5,52.14L646.0,52.17L646.5,52.19L647.0,52.21L647.5,52.23L648.0,52.25L648.5,52.27L649.0,52.29L649.5,52.30L650.0,52.31L650.5,52.33L651.0,52.34L651.5,52.35L652.0,52.36L652.5,52.37L653.0,52.38L653.5,52.39L654.0,52.40L654.5,52.40L655.0,52.41L655.5,52.42L656.0,52.42L656.5,52.43L657.0,52.43L657.5,52.44L658.0,52.44L658.5,52.45L659.0,52.45L659.0,52.50Z" fill="#A3A3A3"/>
<rect x="579.30" y="35.74" width="1.2" height="16.76" fill="#fff"/>
<path d="M520.5,93.82L520.5,93.77L521.0,93.76L521.5,93.76L522.0,93.75L522.5,93.74L523.0,93.74L523.5,93.73L524.0,93.72L524.5,93.71L525.0,93.70L525.5,93.69L526.0,93.67L526.5,93.66L527.0,93.64L527.5,93.62L528.0,93.60L528.5,93.58L529.0,93.55L529.5,93.52L530.0,93.49L530.5,93.46L531.0,93.42L531.5,93.38L532.0,93.33L532.5,93.28L533.0,93.22L533.5,93.17L534.0,93.11L534.5,93.06L535.0,93.00L535.5,92.95L536.0,92.89L536.5,92.82L537.0,92.75L537.5,92.67L538.0,92.59L538.5,92.49L539.0,92.37L539.5,92.21L540.0,92.02L540.5,91.80L541.0,91.56L541.5,91.31L542.0,91.05L542.5,90.78L543.0,90.53L543.5,90.28L544.0,90.05L544.5,89.82L545.0,89.58L545.5,89.34L546.0,89.10L546.5,88.85L547.0,88.58L547.5,88.30L548.0,88.01L548.5,87.69L549.0,87.35L549.5,86.99L550.0,86.61L550.5,86.20L551.0,85.78L551.5,85.34L552.0,84.88L552.5,84.41L553.0,83.92L553.5,83.41L554.0,82.88L554.5,82.31L555.0,81.72L555.5,81.09L556.0,80.45L556.5,79.77L557.0,79.08L557.5,78.33L558.0,77.53L558.5,76.69L559.0,75.82L559.5,74.96L560.0,74.10L560.5,73.28L561.0,72.48L561.5,71.68L562.0,70.88L562.5,70.09L563.0,69.33L563.5,68.59L564.0,67.89L564.5,67.22L565.0,66.53L565.5,65.85L566.0,65.19L566.5,64.57L567.0,64.03L567.5,63.59L568.0,63.26L568.5,62.98L569.0,62.71L569.5,62.46L570.0,62.23L570.5,62.04L571.0,61.89L571.5,61.78L572.0,61.72L572.5,61.73L573.0,61.79L573.5,61.90L574.0,62.04L574.5,62.22L575.0,62.41L575.5,62.61L576.0,62.82L576.5,63.02L577.0,63.22L577.5,63.44L578.0,63.68L578.5,63.94L579.0,64.22L579.5,64.52L580.0,64.85L580.5,65.21L581.0,65.63L581.5,66.09L582.0,66.59L582.5,67.12L583.0,67.68L583.5,68.25L584.0,68.84L584.5,69.43L585.0,70.02L585.5,70.63L586.0,71.29L586.5,71.98L587.0,72.67L587.5,73.37L588.0,74.04L588.5,74.68L589.0,75.27L589.5,75.83L590.0,76.37L590.5,76.90L591.0,77.41L591.5,77.92L592.0,78.43L592.5,78.96L593.0,79.49L593.5,80.04L594.0,80.62L594.5,81.21L595.0,81.81L595.5,82.41L596.0,82.99L596.5,83.57L597.0,84.12L597.5,84.66L598.0,85.20L598.5,85.73L599.0,86.25L599.5,86.75L600.0,87.22L600.5,87.66L601.0,88.06L601.5,88.45L602.0,88.83L602.5,89.20L603.0,89.56L603.5,89.89L604.0,90.20L604.5,90.49L605.0,90.75L605.5,90.97L606.0,91.16L606.5,91.35L607.0,91.53L607.5,91.70L608.0,91.86L608.5,92.01L609.0,92.16L609.5,92.28L610.0,92.40L610.5,92.50L611.0,92.59L611.5,92.67L612.0,92.73L612.5,92.79L613.0,92.84L613.5,92.89L614.0,92.94L614.5,92.99L615.0,93.03L615.5,93.07L616.0,93.10L616.5,93.14L617.0,93.17L617.5,93.19L618.0,93.22L618.5,93.24L619.0,93.26L619.5,93.27L620.0,93.29L620.5,93.30L621.0,93.31L621.5,93.32L622.0,93.33L622.5,93.34L623.0,93.34L623.5,93.35L624.0,93.36L624.5,93.36L625.0,93.37L625.5,93.38L626.0,93.38L626.5,93.39L627.0,93.40L627.5,93.41L628.0,93.42L628.5,93.43L629.0,93.45L629.5,93.46L630.0,93.48L630.5,93.52L631.0,93.57L631.5,93.61L632.0,93.64L632.5,93.67L633.0,93.69L633.5,93.71L634.0,93.73L634.5,93.74L635.0,93.75L635.5,93.76L636.0,93.77L636.0,93.82Z" fill="#A3A3A3"/>
<rect x="579.30" y="64.40" width="1.2" height="29.42" fill="#fff"/>
<path d="M556.0,135.14L556.0,135.09L556.5,135.09L557.0,135.09L557.5,135.08L558.0,135.08L558.5,135.08L559.0,135.08L559.5,135.08L560.0,135.07L560.5,135.07L561.0,135.07L561.5,135.07L562.0,135.07L562.5,135.06L563.0,135.06L563.5,135.06L564.0,135.06L564.5,135.05L565.0,135.05L565.5,135.05L566.0,135.04L566.5,135.04L567.0,135.04L567.5,135.03L568.0,135.03L568.5,135.03L569.0,135.02L569.5,135.02L570.0,135.01L570.5,135.01L571.0,135.01L571.5,135.00L572.0,135.00L572.5,134.99L573.0,134.99L573.5,134.98L574.0,134.98L574.5,134.97L575.0,134.97L575.5,134.96L576.0,134.95L576.5,134.95L577.0,134.94L577.5,134.93L578.0,134.93L578.5,134.92L579.0,134.91L579.5,134.91L580.0,134.90L580.5,134.90L581.0,134.89L581.5,134.88L582.0,134.87L582.5,134.86L583.0,134.85L583.5,134.84L584.0,134.83L584.5,134.82L585.0,134.80L585.5,134.78L586.0,134.75L586.5,134.72L587.0,134.67L587.5,134.62L588.0,134.56L588.5,134.50L589.0,134.43L589.5,134.36L590.0,134.29L590.5,134.22L591.0,134.14L591.5,134.06L592.0,133.98L592.5,133.89L593.0,133.79L593.5,133.68L594.0,133.57L594.5,133.45L595.0,133.32L595.5,133.18L596.0,133.04L596.5,132.89L597.0,132.73L597.5,132.56L598.0,132.37L598.5,132.16L599.0,131.93L599.5,131.69L600.0,131.42L600.5,131.15L601.0,130.86L601.5,130.56L602.0,130.26L602.5,129.95L603.0,129.63L603.5,129.31L604.0,128.98L604.5,128.62L605.0,128.25L605.5,127.87L606.0,127.47L606.5,127.06L607.0,126.64L607.5,126.22L608.0,125.78L608.5,125.34L609.0,124.90L609.5,124.45L610.0,123.99L610.5,123.52L611.0,123.04L611.5,122.54L612.0,122.04L612.5,121.53L613.0,121.01L613.5,120.48L614.0,119.96L614.5,119.43L615.0,118.88L615.5,118.31L616.0,117.73L616.5,117.14L617.0,116.56L617.5,115.98L618.0,115.41L618.5,114.86L619.0,114.34L619.5,113.84L620.0,113.34L620.5,112.84L621.0,112.36L621.5,111.90L622.0,111.48L622.5,111.10L623.0,110.78L623.5,110.49L624.0,110.21L624.5,109.94L625.0,109.69L625.5,109.46L626.0,109.25L626.5,109.05L627.0,108.88L627.5,108.72L628.0,108.59L628.5,108.47L629.0,108.37L629.5,108.28L630.0,108.20L630.5,108.12L631.0,108.03L631.5,107.94L632.0,107.84L632.5,107.74L633.0,107.64L633.5,107.54L634.0,107.44L634.5,107.34L635.0,107.23L635.5,107.12L636.0,107.00L636.5,106.91L637.0,106.85L637.5,106.85L638.0,106.90L638.5,107.02L639.0,107.17L639.5,107.34L640.0,107.61L640.5,108.04L641.0,108.57L641.5,109.18L642.0,109.82L642.5,110.44L643.0,111.09L643.5,111.81L644.0,112.56L644.5,113.27L645.0,113.93L645.5,114.56L646.0,115.19L646.5,115.79L647.0,116.38L647.5,116.96L648.0,117.51L648.5,118.05L649.0,118.57L649.5,119.06L650.0,119.54L650.5,120.01L651.0,120.48L651.5,120.95L652.0,121.44L652.5,121.94L653.0,122.45L653.5,122.96L654.0,123.47L654.5,123.97L655.0,124.47L655.5,124.95L656.0,125.42L656.5,125.90L657.0,126.38L657.5,126.86L658.0,127.33L658.5,127.78L659.0,128.22L659.5,128.63L660.0,129.02L660.5,129.37L661.0,129.70L661.5,130.01L662.0,130.31L662.5,130.59L663.0,130.87L663.5,131.12L664.0,131.36L664.5,131.59L665.0,131.80L665.5,131.99L666.0,132.17L666.5,132.34L667.0,132.51L667.5,132.68L668.0,132.83L668.5,132.98L669.0,133.12L669.5,133.25L670.0,133.37L670.5,133.48L671.0,133.57L671.5,133.66L672.0,133.74L672.5,133.81L673.0,133.87L673.5,133.93L674.0,133.99L674.5,134.04L675.0,134.09L675.5,134.14L676.0,134.19L676.5,134.23L677.0,134.28L677.5,134.33L678.0,134.37L678.5,134.42L679.0,134.48L679.5,134.53L680.0,134.59L680.5,134.65L681.0,134.70L681.5,134.75L682.0,134.79L682.5,134.83L683.0,134.86L683.5,134.89L684.0,134.91L684.5,134.94L685.0,134.96L685.5,134.98L686.0,134.99L686.5,135.01L687.0,135.02L687.5,135.03L688.0,135.04L688.5,135.05L689.0,135.06L689.5,135.07L690.0,135.08L690.5,135.08L691.0,135.09L691.0,135.14Z" fill="#A3A3A3"/>
<rect x="579.30" y="134.90" width="1.2" height="0.24" fill="#fff"/>
<path d="M538.0,176.46L538.0,176.41L538.5,176.41L539.0,176.41L539.5,176.41L540.0,176.40L540.5,176.40L541.0,176.40L541.5,176.40L542.0,176.40L542.5,176.40L543.0,176.40L543.5,176.39L544.0,176.39L544.5,176.39L545.0,176.39L545.5,176.39L546.0,176.39L546.5,176.39L547.0,176.38L547.5,176.38L548.0,176.38L548.5,176.38L549.0,176.38L549.5,176.38L550.0,176.37L550.5,176.37L551.0,176.37L551.5,176.37L552.0,176.37L552.5,176.36L553.0,176.36L553.5,176.36L554.0,176.36L554.5,176.35L555.0,176.35L555.5,176.35L556.0,176.35L556.5,176.34L557.0,176.34L557.5,176.34L558.0,176.34L558.5,176.33L559.0,176.33L559.5,176.33L560.0,176.32L560.5,176.32L561.0,176.32L561.5,176.31L562.0,176.31L562.5,176.31L563.0,176.30L563.5,176.30L564.0,176.30L564.5,176.29L565.0,176.29L565.5,176.28L566.0,176.28L566.5,176.28L567.0,176.27L567.5,176.27L568.0,176.26L568.5,176.26L569.0,176.25L569.5,176.25L570.0,176.25L570.5,176.24L571.0,176.24L571.5,176.23L572.0,176.23L572.5,176.23L573.0,176.22L573.5,176.22L574.0,176.21L574.5,176.21L575.0,176.21L575.5,176.20L576.0,176.19L576.5,176.19L577.0,176.18L577.5,176.17L578.0,176.16L578.5,176.15L579.0,176.14L579.5,176.13L580.0,176.12L580.5,176.08L581.0,176.00L581.5,175.88L582.0,175.75L582.5,175.59L583.0,175.42L583.5,175.24L584.0,175.05L584.5,174.88L585.0,174.70L585.5,174.52L586.0,174.33L586.5,174.13L587.0,173.92L587.5,173.70L588.0,173.47L588.5,173.23L589.0,172.99L589.5,172.74L590.0,172.48L590.5,172.21L591.0,171.93L591.5,171.63L592.0,171.33L592.5,171.01L593.0,170.68L593.5,170.35L594.0,170.00L594.5,169.63L595.0,169.26L595.5,168.86L596.0,168.45L596.5,168.01L597.0,167.56L597.5,167.10L598.0,166.63L598.5,166.15L599.0,165.66L599.5,165.16L600.0,164.65L600.5,164.13L601.0,163.59L601.5,163.04L602.0,162.48L602.5,161.90L603.0,161.32L603.5,160.73L604.0,160.12L604.5,159.51L605.0,158.87L605.5,158.21L606.0,157.52L606.5,156.84L607.0,156.16L607.5,155.50L608.0,154.86L608.5,154.23L609.0,153.58L609.5,152.94L610.0,152.31L610.5,151.72L611.0,151.19L611.5,150.72L612.0,150.34L612.5,150.00L613.0,149.70L613.5,149.42L614.0,149.16L614.5,148.90L615.0,148.63L615.5,148.35L616.0,148.08L616.5,147.82L617.0,147.55L617.5,147.27L618.0,146.95L618.5,146.58L619.0,146.02L619.5,145.29L620.0,144.48L620.5,143.70L621.0,143.02L621.5,142.54L622.0,142.36L622.5,142.44L623.0,142.67L623.5,143.00L624.0,143.40L624.5,143.82L625.0,144.24L625.5,144.72L626.0,145.28L626.5,145.91L627.0,146.57L627.5,147.26L628.0,147.96L628.5,148.63L629.0,149.28L629.5,149.94L630.0,150.61L630.5,151.29L631.0,151.98L631.5,152.67L632.0,153.38L632.5,154.09L633.0,154.82L633.5,155.56L634.0,156.30L634.5,157.06L635.0,157.81L635.5,158.56L636.0,159.31L636.5,160.07L637.0,160.83L637.5,161.60L638.0,162.37L638.5,163.11L639.0,163.84L639.5,164.53L640.0,165.19L640.5,165.83L641.0,166.46L641.5,167.06L642.0,167.65L642.5,168.21L643.0,168.75L643.5,169.27L644.0,169.79L644.5,170.29L645.0,170.78L645.5,171.24L646.0,171.66L646.5,172.04L647.0,172.36L647.5,172.65L648.0,172.92L648.5,173.18L649.0,173.43L649.5,173.65L650.0,173.86L650.5,174.05L651.0,174.22L651.5,174.36L652.0,174.48L652.5,174.59L653.0,174.70L653.5,174.80L654.0,174.89L654.5,174.98L655.0,175.06L655.5,175.14L656.0,175.21L656.5,175.28L657.0,175.34L657.5,175.40L658.0,175.46L658.5,175.51L659.0,175.55L659.5,175.59L660.0,175.63L660.5,175.67L661.0,175.71L661.5,175.74L662.0,175.77L662.5,175.80L663.0,175.83L663.5,175.86L664.0,175.89L664.5,175.91L665.0,175.94L665.5,175.96L666.0,175.99L666.5,176.01L667.0,176.03L667.5,176.06L668.0,176.08L668.5,176.10L669.0,176.13L669.5,176.15L670.0,176.17L670.5,176.20L671.0,176.22L671.5,176.24L672.0,176.25L672.5,176.27L673.0,176.28L673.5,176.30L674.0,176.31L674.5,176.32L675.0,176.33L675.5,176.34L676.0,176.35L676.5,176.36L677.0,176.37L677.5,176.37L678.0,176.38L678.5,176.39L679.0,176.39L679.5,176.40L680.0,176.40L680.5,176.41L681.0,176.41L681.0,176.46Z" fill="#A3A3A3"/>
<rect x="579.30" y="176.08" width="1.2" height="0.38" fill="#fff"/>
<path d="M522.0,217.78L522.0,217.73L522.5,217.73L523.0,217.73L523.5,217.72L524.0,217.72L524.5,217.72L525.0,217.72L525.5,217.71L526.0,217.71L526.5,217.71L527.0,217.70L527.5,217.70L528.0,217.70L528.5,217.69L529.0,217.69L529.5,217.69L530.0,217.68L530.5,217.68L531.0,217.67L531.5,217.67L532.0,217.66L532.5,217.66L533.0,217.65L533.5,217.65L534.0,217.64L534.5,217.64L535.0,217.63L535.5,217.63L536.0,217.62L536.5,217.61L537.0,217.61L537.5,217.60L538.0,217.60L538.5,217.59L539.0,217.58L539.5,217.57L540.0,217.56L540.5,217.53L541.0,217.49L541.5,217.44L542.0,217.37L542.5,217.29L543.0,217.20L543.5,217.10L544.0,217.00L544.5,216.89L545.0,216.78L545.5,216.67L546.0,216.56L546.5,216.46L547.0,216.34L547.5,216.22L548.0,216.09L548.5,215.95L549.0,215.81L549.5,215.66L550.0,215.51L550.5,215.34L551.0,215.17L551.5,215.00L552.0,214.82L552.5,214.63L553.0,214.42L553.5,214.19L554.0,213.96L554.5,213.71L555.0,213.45L555.5,213.17L556.0,212.90L556.5,212.61L557.0,212.33L557.5,212.04L558.0,211.75L558.5,211.47L559.0,211.18L559.5,210.89L560.0,210.59L560.5,210.29L561.0,209.98L561.5,209.67L562.0,209.35L562.5,209.02L563.0,208.68L563.5,208.34L564.0,207.98L564.5,207.60L565.0,207.21L565.5,206.79L566.0,206.36L566.5,205.90L567.0,205.44L567.5,204.97L568.0,204.50L568.5,204.03L569.0,203.56L569.5,203.10L570.0,202.63L570.5,202.15L571.0,201.66L571.5,201.18L572.0,200.69L572.5,200.22L573.0,199.75L573.5,199.29L574.0,198.85L574.5,198.43L575.0,198.03L575.5,197.64L576.0,197.26L576.5,196.89L577.0,196.52L577.5,196.16L578.0,195.79L578.5,195.41L579.0,195.03L579.5,194.64L580.0,194.23L580.5,193.78L581.0,193.30L581.5,192.82L582.0,192.34L582.5,191.88L583.0,191.45L583.5,191.08L584.0,190.78L584.5,190.51L585.0,190.24L585.5,189.98L586.0,189.75L586.5,189.55L587.0,189.40L587.5,189.30L588.0,189.28L588.5,189.30L589.0,189.33L589.5,189.39L590.0,189.45L590.5,189.53L591.0,189.62L591.5,189.72L592.0,189.88L592.5,190.09L593.0,190.35L593.5,190.65L594.0,190.97L594.5,191.32L595.0,191.68L595.5,192.08L596.0,192.57L596.5,193.11L597.0,193.68L597.5,194.28L598.0,194.88L598.5,195.46L599.0,196.00L599.5,196.52L600.0,197.04L600.5,197.57L601.0,198.14L601.5,198.78L602.0,199.57L602.5,200.48L603.0,201.35L603.5,202.03L604.0,202.62L604.5,203.15L605.0,203.64L605.5,204.11L606.0,204.56L606.5,205.01L607.0,205.48L607.5,205.96L608.0,206.45L608.5,206.93L609.0,207.40L609.5,207.86L610.0,208.30L610.5,208.72L611.0,209.11L611.5,209.49L612.0,209.85L612.5,210.21L613.0,210.55L613.5,210.88L614.0,211.20L614.5,211.52L615.0,211.82L615.5,212.12L616.0,212.42L616.5,212.71L617.0,213.00L617.5,213.29L618.0,213.57L618.5,213.84L619.0,214.09L619.5,214.33L620.0,214.55L620.5,214.74L621.0,214.92L621.5,215.10L622.0,215.27L622.5,215.43L623.0,215.58L623.5,215.73L624.0,215.87L624.5,216.00L625.0,216.12L625.5,216.23L626.0,216.33L626.5,216.41L627.0,216.49L627.5,216.56L628.0,216.63L628.5,216.69L629.0,216.75L629.5,216.81L630.0,216.86L630.5,216.91L631.0,216.96L631.5,217.01L632.0,217.05L632.5,217.10L633.0,217.14L633.5,217.18L634.0,217.23L634.5,217.27L635.0,217.31L635.5,217.35L636.0,217.38L636.5,217.42L637.0,217.45L637.5,217.48L638.0,217.50L638.5,217.52L639.0,217.55L639.5,217.56L640.0,217.58L640.5,217.60L641.0,217.61L641.5,217.63L642.0,217.64L642.5,217.65L643.0,217.66L643.5,217.67L644.0,217.68L644.5,217.69L645.0,217.70L645.5,217.70L646.0,217.71L646.5,217.71L647.0,217.72L647.5,217.72L648.0,217.73L648.0,217.78Z" fill="#A3A3A3"/>
<rect x="579.30" y="193.78" width="1.2" height="24.00" fill="#fff"/>
<path d="M524.0,259.10L524.0,259.05L524.5,259.04L525.0,259.04L525.5,259.03L526.0,259.03L526.5,259.02L527.0,259.01L527.5,259.01L528.0,259.00L528.5,258.99L529.0,258.98L529.5,258.97L530.0,258.95L530.5,258.94L531.0,258.93L531.5,258.91L532.0,258.89L532.5,258.87L533.0,258.85L533.5,258.83L534.0,258.80L534.5,258.77L535.0,258.74L535.5,258.71L536.0,258.67L536.5,258.63L537.0,258.59L537.5,258.55L538.0,258.51L538.5,258.46L539.0,258.42L539.5,258.36L540.0,258.31L540.5,258.25L541.0,258.19L541.5,258.12L542.0,258.05L542.5,257.98L543.0,257.89L543.5,257.80L544.0,257.69L544.5,257.57L545.0,257.45L545.5,257.31L546.0,257.16L546.5,257.01L547.0,256.84L547.5,256.66L548.0,256.46L548.5,256.19L549.0,255.88L549.5,255.55L550.0,255.22L550.5,254.90L551.0,254.62L551.5,254.40L552.0,254.23L552.5,254.10L553.0,253.98L553.5,253.87L554.0,253.74L554.5,253.59L555.0,253.40L555.5,253.12L556.0,252.75L556.5,252.29L557.0,251.77L557.5,251.20L558.0,250.61L558.5,250.01L559.0,249.42L559.5,248.83L560.0,248.20L560.5,247.55L561.0,246.87L561.5,246.17L562.0,245.47L562.5,244.75L563.0,244.04L563.5,243.33L564.0,242.60L564.5,241.87L565.0,241.12L565.5,240.37L566.0,239.61L566.5,238.86L567.0,238.10L567.5,237.35L568.0,236.59L568.5,235.82L569.0,235.05L569.5,234.28L570.0,233.52L570.5,232.75L571.0,232.00L571.5,231.25L572.0,230.50L572.5,229.74L573.0,228.99L573.5,228.24L574.0,227.51L574.5,226.79L575.0,226.10L575.5,225.43L576.0,224.69L576.5,223.93L577.0,223.25L577.5,222.71L578.0,222.40L578.5,222.24L579.0,222.12L579.5,222.03L580.0,222.00L580.5,222.03L581.0,222.12L581.5,222.25L582.0,222.40L582.5,222.59L583.0,222.87L583.5,223.22L584.0,223.62L584.5,224.08L585.0,224.58L585.5,225.11L586.0,225.78L586.5,226.60L587.0,227.54L587.5,228.53L588.0,229.55L588.5,230.54L589.0,231.47L589.5,232.39L590.0,233.33L590.5,234.27L591.0,235.21L591.5,236.15L592.0,237.07L592.5,237.97L593.0,238.85L593.5,239.73L594.0,240.62L594.5,241.49L595.0,242.35L595.5,243.18L596.0,243.98L596.5,244.73L597.0,245.44L597.5,246.11L598.0,246.75L598.5,247.37L599.0,247.97L599.5,248.54L600.0,249.08L600.5,249.60L601.0,250.10L601.5,250.57L602.0,251.03L602.5,251.46L603.0,251.88L603.5,252.29L604.0,252.67L604.5,253.05L605.0,253.40L605.5,253.74L606.0,254.06L606.5,254.37L607.0,254.66L607.5,254.95L608.0,255.23L608.5,255.50L609.0,255.78L609.5,256.07L610.0,256.35L610.5,256.60L611.0,256.82L611.5,256.99L612.0,257.14L612.5,257.27L613.0,257.40L613.5,257.52L614.0,257.63L614.5,257.73L615.0,257.83L615.5,257.92L616.0,258.00L616.5,258.07L617.0,258.13L617.5,258.18L618.0,258.23L618.5,258.27L619.0,258.31L619.5,258.35L620.0,258.38L620.5,258.42L621.0,258.45L621.5,258.48L622.0,258.50L622.5,258.53L623.0,258.55L623.5,258.58L624.0,258.60L624.5,258.62L625.0,258.65L625.5,258.67L626.0,258.69L626.5,258.71L627.0,258.73L627.5,258.75L628.0,258.78L628.5,258.80L629.0,258.82L629.5,258.84L630.0,258.86L630.5,258.87L631.0,258.89L631.5,258.90L632.0,258.92L632.5,258.93L633.0,258.94L633.5,258.95L634.0,258.96L634.5,258.97L635.0,258.98L635.5,258.99L636.0,259.00L636.5,259.00L637.0,259.01L637.5,259.02L638.0,259.02L638.5,259.03L639.0,259.03L639.5,259.04L640.0,259.04L640.5,259.05L641.0,259.05L641.0,259.10Z" fill="#A3A3A3"/>
<rect x="579.30" y="222.03" width="1.2" height="37.07" fill="#fff"/>
<rect x="518.50" y="11.50" width="176.95" height="272.00" fill="none" stroke="#464646" stroke-width="1.15"/>
<line x1="516.30" y1="52.50" x2="518.50" y2="52.50" stroke="#3a3a3a" stroke-width="1"/>
<line x1="516.30" y1="93.82" x2="518.50" y2="93.82" stroke="#3a3a3a" stroke-width="1"/>
<line x1="516.30" y1="135.14" x2="518.50" y2="135.14" stroke="#3a3a3a" stroke-width="1"/>
<line x1="516.30" y1="176.46" x2="518.50" y2="176.46" stroke="#3a3a3a" stroke-width="1"/>
<line x1="516.30" y1="217.78" x2="518.50" y2="217.78" stroke="#3a3a3a" stroke-width="1"/>
<line x1="516.30" y1="259.10" x2="518.50" y2="259.10" stroke="#3a3a3a" stroke-width="1"/>
<line x1="526.40" y1="283.50" x2="526.40" y2="285.70" stroke="#3a3a3a" stroke-width="1"/>
<text x="526.40" y="293.10" font-family="Liberation Sans, sans-serif" font-size="7" fill="#555" stroke="#555" stroke-width="0.08" text-anchor="middle">1.2</text>
<line x1="566.50" y1="283.50" x2="566.50" y2="285.70" stroke="#3a3a3a" stroke-width="1"/>
<text x="566.50" y="293.10" font-family="Liberation Sans, sans-serif" font-size="7" fill="#555" stroke="#555" stroke-width="0.08" text-anchor="middle">1.4</text>
<line x1="606.70" y1="283.50" x2="606.70" y2="285.70" stroke="#3a3a3a" stroke-width="1"/>
<text x="606.70" y="293.10" font-family="Liberation Sans, sans-serif" font-size="7" fill="#555" stroke="#555" stroke-width="0.08" text-anchor="middle">1.6</text>
<line x1="647.00" y1="283.50" x2="647.00" y2="285.70" stroke="#3a3a3a" stroke-width="1"/>
<text x="647.00" y="293.10" font-family="Liberation Sans, sans-serif" font-size="7" fill="#555" stroke="#555" stroke-width="0.08" text-anchor="middle">1.8</text>
<line x1="687.30" y1="283.50" x2="687.30" y2="285.70" stroke="#3a3a3a" stroke-width="1"/>
<text x="687.30" y="293.10" font-family="Liberation Sans, sans-serif" font-size="7" fill="#555" stroke="#555" stroke-width="0.08" text-anchor="middle">2.0</text>
<text x="606.98" y="306.8" font-family="Liberation Sans, sans-serif" font-size="9.3" fill="#1a1a1a" stroke="#1a1a1a" stroke-width="0.14" text-anchor="middle">F2 hatch yolk area (mm<tspan font-size="6" dy="-3.5">2</tspan><tspan dy="3.5">)</tspan></text>
<text x="506.80" y="10.30" font-family="Liberation Sans, sans-serif" font-size="11.4" font-weight="bold" fill="#111" text-anchor="middle">(c)</text>
<text x="661.10" y="24.60" font-family="Liberation Sans, sans-serif" font-size="7.05" fill="#262626" stroke="#262626" stroke-width="0.08" text-anchor="middle">marginal R<tspan font-size="4.6" dy="-2.6">2</tspan><tspan dy="2.6"> 0.27</tspan></text>
<text x="661.10" y="35.40" font-family="Liberation Sans, sans-serif" font-size="7.05" fill="#262626" stroke="#262626" stroke-width="0.08" text-anchor="middle">conditional R<tspan font-size="4.6" dy="-2.6">2</tspan><tspan dy="2.6"> 0.39</tspan></text>
<text x="701.70" y="26.20" font-family="Liberation Sans, sans-serif" font-size="6.6" font-style="italic" fill="#262626" stroke="#262626" stroke-width="0.12" text-anchor="middle">n</text>
<text x="701.70" y="49.20" font-family="Liberation Sans, sans-serif" font-size="6.6" fill="#6a6a6a" stroke="#6a6a6a" stroke-width="0.1" text-anchor="middle">56</text>
<text x="701.70" y="90.52" font-family="Liberation Sans, sans-serif" font-size="6.6" fill="#6a6a6a" stroke="#6a6a6a" stroke-width="0.1" text-anchor="middle">100</text>
<text x="701.70" y="131.84" font-family="Liberation Sans, sans-serif" font-size="6.6" fill="#6a6a6a" stroke="#6a6a6a" stroke-width="0.1" text-anchor="middle">79</text>
<text x="701.70" y="173.16" font-family="Liberation Sans, sans-serif" font-size="6.6" fill="#6a6a6a" stroke="#6a6a6a" stroke-width="0.1" text-anchor="middle">136</text>
<text x="701.70" y="214.48" font-family="Liberation Sans, sans-serif" font-size="6.6" fill="#6a6a6a" stroke="#6a6a6a" stroke-width="0.1" text-anchor="middle">80</text>
<text x="701.70" y="255.80" font-family="Liberation Sans, sans-serif" font-size="6.6" fill="#6a6a6a" stroke="#6a6a6a" stroke-width="0.1" text-anchor="middle">138</text>
<text x="646.80" y="49.60" font-family="Liberation Sans, sans-serif" font-size="8.4" fill="#2a2a2a" stroke="#2a2a2a" stroke-width="0.12">81%</text>
<text x="521.80" y="90.70" font-family="Liberation Sans, sans-serif" font-size="8.4" fill="#2a2a2a" stroke="#2a2a2a" stroke-width="0.12">67%</text>
<text x="672.60" y="132.00" font-family="Liberation Sans, sans-serif" font-size="8.4" fill="#2a2a2a" stroke="#2a2a2a" stroke-width="0.12">&gt;99%</text>
<text x="667.00" y="173.70" font-family="Liberation Sans, sans-serif" font-size="8.4" fill="#2a2a2a" stroke="#2a2a2a" stroke-width="0.12">&gt;99%</text>
<text x="628.80" y="214.80" font-family="Liberation Sans, sans-serif" font-size="8.4" fill="#2a2a2a" stroke="#2a2a2a" stroke-width="0.12">68%</text>
<circle cx="492.30" cy="53.50" r="2.85" fill="none" stroke="#DD6314" stroke-width="1.0"/>
<line x1="494.20" y1="51.60" x2="497.20" y2="49.10" stroke="#DD6314" stroke-width="1.15"/>
<path d="M498.30,48.30 L495.30,48.50 L497.90,51.10 Z" fill="#DD6314"/>
<circle cx="502.00" cy="50.65" r="2.55" fill="none" stroke="#4DB0E6" stroke-width="1.1"/>
<line x1="502.00" y1="53.25" x2="502.00" y2="56.85" stroke="#4DB0E6" stroke-width="1.2"/>
<line x1="500.30" y1="55.15" x2="503.70" y2="55.15" stroke="#4DB0E6" stroke-width="1.0"/>
<circle cx="511.00" cy="52.30" r="4.55" fill="#DD6314"/>
<path d="M507.90,55.50 L506.10,57.60" stroke="#DD6314" stroke-width="0.8" opacity="0.75"/>
<circle cx="512.80" cy="50.50" r="0.75" fill="#fff" opacity="0.9"/>
<circle cx="509.90" cy="53.20" r="1.35" fill="none" stroke="#fff" stroke-width="0.55" opacity="0.75"/>
<path d="M509.00,54.20 L507.60,55.80" stroke="#fff" stroke-width="0.55" opacity="0.7"/>
<circle cx="492.30" cy="94.82" r="2.85" fill="none" stroke="#4DB0E6" stroke-width="1.0"/>
<line x1="494.20" y1="92.92" x2="497.20" y2="90.42" stroke="#4DB0E6" stroke-width="1.15"/>
<path d="M498.30,89.62 L495.30,89.82 L497.90,92.42 Z" fill="#4DB0E6"/>
<circle cx="502.00" cy="91.97" r="2.55" fill="none" stroke="#4DB0E6" stroke-width="1.1"/>
<line x1="502.00" y1="94.57" x2="502.00" y2="98.17" stroke="#4DB0E6" stroke-width="1.2"/>
<line x1="500.30" y1="96.47" x2="503.70" y2="96.47" stroke="#4DB0E6" stroke-width="1.0"/>
<circle cx="511.00" cy="93.62" r="4.55" fill="#DD6314"/>
<path d="M507.90,96.82 L506.10,98.92" stroke="#DD6314" stroke-width="0.8" opacity="0.75"/>
<circle cx="512.80" cy="91.82" r="0.75" fill="#fff" opacity="0.9"/>
<circle cx="509.90" cy="94.52" r="1.35" fill="none" stroke="#fff" stroke-width="0.55" opacity="0.75"/>
<path d="M509.00,95.52 L507.60,97.12" stroke="#fff" stroke-width="0.55" opacity="0.7"/>
<circle cx="492.30" cy="136.14" r="2.85" fill="none" stroke="#DD6314" stroke-width="1.0"/>
<line x1="494.20" y1="134.24" x2="497.20" y2="131.74" stroke="#DD6314" stroke-width="1.15"/>
<path d="M498.30,130.94 L495.30,131.14 L497.90,133.74 Z" fill="#DD6314"/>
<circle cx="502.00" cy="133.29" r="2.55" fill="none" stroke="#DD6314" stroke-width="1.1"/>
<line x1="502.00" y1="135.89" x2="502.00" y2="139.49" stroke="#DD6314" stroke-width="1.2"/>
<line x1="500.30" y1="137.79" x2="503.70" y2="137.79" stroke="#DD6314" stroke-width="1.0"/>
<circle cx="511.00" cy="134.94" r="4.55" fill="#4DB0E6"/>
<path d="M507.90,138.14 L506.10,140.24" stroke="#4DB0E6" stroke-width="0.8" opacity="0.75"/>
<circle cx="512.80" cy="133.14" r="0.75" fill="#fff" opacity="0.9"/>
<circle cx="509.90" cy="135.84" r="1.35" fill="none" stroke="#fff" stroke-width="0.55" opacity="0.75"/>
<path d="M509.00,136.84 L507.60,138.44" stroke="#fff" stroke-width="0.55" opacity="0.7"/>
<circle cx="492.30" cy="177.46" r="2.85" fill="none" stroke="#4DB0E6" stroke-width="1.0"/>
<line x1="494.20" y1="175.56" x2="497.20" y2="173.06" stroke="#4DB0E6" stroke-width="1.15"/>
<path d="M498.30,172.26 L495.30,172.46 L497.90,175.06 Z" fill="#4DB0E6"/>
<circle cx="502.00" cy="174.61" r="2.55" fill="none" stroke="#DD6314" stroke-width="1.1"/>
<line x1="502.00" y1="177.21" x2="502.00" y2="180.81" stroke="#DD6314" stroke-width="1.2"/>
<line x1="500.30" y1="179.11" x2="503.70" y2="179.11" stroke="#DD6314" stroke-width="1.0"/>
<circle cx="511.00" cy="176.26" r="4.55" fill="#4DB0E6"/>
<path d="M507.90,179.46 L506.10,181.56" stroke="#4DB0E6" stroke-width="0.8" opacity="0.75"/>
<circle cx="512.80" cy="174.46" r="0.75" fill="#fff" opacity="0.9"/>
<circle cx="509.90" cy="177.16" r="1.35" fill="none" stroke="#fff" stroke-width="0.55" opacity="0.75"/>
<path d="M509.00,178.16 L507.60,179.76" stroke="#fff" stroke-width="0.55" opacity="0.7"/>
<circle cx="492.30" cy="218.78" r="2.85" fill="none" stroke="#DD6314" stroke-width="1.0"/>
<line x1="494.20" y1="216.88" x2="497.20" y2="214.38" stroke="#DD6314" stroke-width="1.15"/>
<path d="M498.30,213.58 L495.30,213.78 L497.90,216.38 Z" fill="#DD6314"/>
<circle cx="502.00" cy="215.93" r="2.55" fill="none" stroke="#4DB0E6" stroke-width="1.1"/>
<line x1="502.00" y1="218.53" x2="502.00" y2="222.13" stroke="#4DB0E6" stroke-width="1.2"/>
<line x1="500.30" y1="220.43" x2="503.70" y2="220.43" stroke="#4DB0E6" stroke-width="1.0"/>
<circle cx="511.00" cy="217.58" r="4.55" fill="#4DB0E6"/>
<path d="M507.90,220.78 L506.10,222.88" stroke="#4DB0E6" stroke-width="0.8" opacity="0.75"/>
<circle cx="512.80" cy="215.78" r="0.75" fill="#fff" opacity="0.9"/>
<circle cx="509.90" cy="218.48" r="1.35" fill="none" stroke="#fff" stroke-width="0.55" opacity="0.75"/>
<path d="M509.00,219.48 L507.60,221.08" stroke="#fff" stroke-width="0.55" opacity="0.7"/>
<circle cx="492.30" cy="260.10" r="2.85" fill="none" stroke="#4DB0E6" stroke-width="1.0"/>
<line x1="494.20" y1="258.20" x2="497.20" y2="255.70" stroke="#4DB0E6" stroke-width="1.15"/>
<path d="M498.30,254.90 L495.30,255.10 L497.90,257.70 Z" fill="#4DB0E6"/>
<circle cx="502.00" cy="257.25" r="2.55" fill="none" stroke="#4DB0E6" stroke-width="1.1"/>
<line x1="502.00" y1="259.85" x2="502.00" y2="263.45" stroke="#4DB0E6" stroke-width="1.2"/>
<line x1="500.30" y1="261.75" x2="503.70" y2="261.75" stroke="#4DB0E6" stroke-width="1.0"/>
<circle cx="511.00" cy="258.90" r="4.55" fill="#4DB0E6"/>
<path d="M507.90,262.10 L506.10,264.20" stroke="#4DB0E6" stroke-width="0.8" opacity="0.75"/>
<circle cx="512.80" cy="257.10" r="0.75" fill="#fff" opacity="0.9"/>
<circle cx="509.90" cy="259.80" r="1.35" fill="none" stroke="#fff" stroke-width="0.55" opacity="0.75"/>
<path d="M509.00,260.80 L507.60,262.40" stroke="#fff" stroke-width="0.55" opacity="0.7"/>
<text x="0" y="0" transform="translate(8.9,147.4) rotate(-90)" font-family="Liberation Sans, sans-serif" font-size="9.3" fill="#1a1a1a" stroke="#1a1a1a" stroke-width="0.14" text-anchor="middle">F1 temperature</text>
</svg>
</body></html>
